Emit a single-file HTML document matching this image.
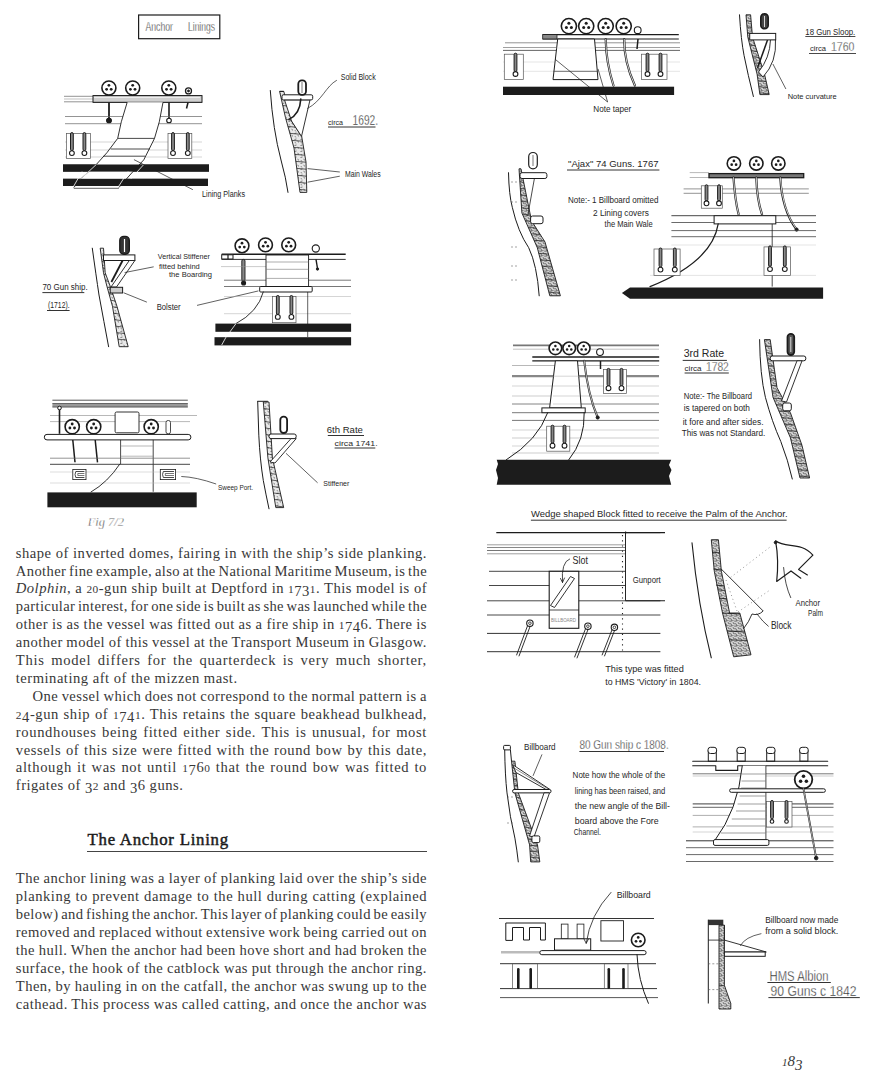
<!DOCTYPE html>
<html><head><meta charset="utf-8">
<style>
html,body{margin:0;padding:0;background:#fff;}
body{width:884px;height:1089px;position:relative;overflow:hidden;font-family:"Liberation Serif",serif;color:#383838;}
.l{position:absolute;font-size:14.6px;letter-spacing:0.5px;line-height:18px;height:18px;white-space:nowrap;}
.j{text-align:justify;text-align-last:justify;white-space:normal;}
.h{position:absolute;left:87.5px;top:831.23px;font-size:16.8px;line-height:18px;font-weight:normal;-webkit-text-stroke:0.45px #1a1a1a;letter-spacing:0.75px;white-space:nowrap;color:#1a1a1a}
.os{font-size:0.78em} .od{position:relative;top:0.2em}
.pn{position:absolute;font-style:italic;font-size:15px;line-height:18px;white-space:nowrap;}
svg{position:absolute;left:0;top:0;}
</style></head><body>
<div class="l" style="top:543.67px;left:15.8px;letter-spacing:0.503px;word-spacing:0.027px;">shape of inverted domes, fairing in with the ship’s side planking.</div>
<div class="l" style="top:561.57px;left:15.8px;letter-spacing:0.375px;word-spacing:-1.236px;">Another fine example, also at the National Maritime Museum, is the</div>
<div class="l" style="top:579.47px;left:15.8px;letter-spacing:0.494px;word-spacing:-0.051px;"><i>Dolphin</i>, a <span class="os">2</span><span class="os">0</span>-gun ship built at Deptford in <span class="os">1</span><span class="od">7</span><span class="od">3</span><span class="os">1</span>. This model is of</div>
<div class="l" style="top:597.37px;left:15.8px;letter-spacing:0.353px;word-spacing:-1.321px;">particular interest, for one side is built as she was launched while the</div>
<div class="l" style="top:615.27px;left:15.8px;letter-spacing:0.469px;word-spacing:-0.214px;">other is as the vessel was fitted out as a fire ship in <span class="os">1</span><span class="od">7</span><span class="od">4</span>6. There is</div>
<div class="l" style="top:633.17px;left:15.8px;letter-spacing:0.451px;word-spacing:-0.466px;">another model of this vessel at the Transport Museum in Glasgow.</div>
<div class="l" style="top:651.07px;left:15.8px;letter-spacing:0.718px;word-spacing:2.181px;">This model differs for the quarterdeck is very much shorter,</div>
<div class="l" style="top:668.97px;left:15.8px;">terminating aft of the mizzen mast.</div>
<div class="l" style="top:686.87px;left:32.5px;letter-spacing:0.435px;word-spacing:-0.560px;">One vessel which does not correspond to the normal pattern is a</div>
<div class="l" style="top:704.77px;left:15.8px;letter-spacing:0.553px;word-spacing:0.552px;"><span class="os">2</span><span class="od">4</span>-gun ship of <span class="os">1</span><span class="od">7</span><span class="od">4</span><span class="os">1</span>. This retains the square beakhead bulkhead,</div>
<div class="l" style="top:722.67px;left:15.8px;letter-spacing:0.625px;word-spacing:1.308px;">roundhouses being fitted either side. This is unusual, for most</div>
<div class="l" style="top:740.57px;left:15.8px;letter-spacing:0.573px;word-spacing:0.595px;">vessels of this size were fitted with the round bow by this date,</div>
<div class="l" style="top:758.47px;left:15.8px;letter-spacing:0.620px;word-spacing:0.946px;">although it was not until <span class="os">1</span><span class="od">7</span>6<span class="os">0</span> that the round bow was fitted to</div>
<div class="l" style="top:776.37px;left:15.8px;">frigates of <span class="od">3</span><span class="os">2</span> and <span class="od">3</span>6 guns.</div>
<div class="l" style="top:869.37px;left:15.8px;letter-spacing:0.456px;word-spacing:-0.366px;">The anchor lining was a layer of planking laid over the ship’s side</div>
<div class="l" style="top:887.27px;left:15.8px;letter-spacing:0.522px;word-spacing:0.234px;">planking to prevent damage to the hull during catting (explained</div>
<div class="l" style="top:905.17px;left:15.8px;letter-spacing:0.359px;word-spacing:-1.324px;">below) and fishing the anchor. This layer of planking could be easily</div>
<div class="l" style="top:923.07px;left:15.8px;letter-spacing:0.431px;word-spacing:-0.737px;">removed and replaced without extensive work being carried out on</div>
<div class="l" style="top:940.97px;left:15.8px;letter-spacing:0.453px;word-spacing:-0.378px;">the hull. When the anchor had been hove short and had broken the</div>
<div class="l" style="top:958.87px;left:15.8px;letter-spacing:0.466px;word-spacing:-0.304px;">surface, the hook of the catblock was put through the anchor ring.</div>
<div class="l" style="top:976.77px;left:15.8px;letter-spacing:0.456px;word-spacing:-0.334px;">Then, by hauling in on the catfall, the anchor was swung up to the</div>
<div class="l" style="top:994.67px;left:15.8px;letter-spacing:0.468px;word-spacing:-0.311px;">cathead. This process was called catting, and once the anchor was</div>
<div class="h">The Anchor Lining</div>
<div style="position:absolute;left:87px;top:851px;width:340px;height:1.2px;background:#444"></div>
<div class="pn" style="left:782px;top:1052px"><span style="font-size:11px">1</span>8<span style="position:relative;top:3.5px">3</span></div>
<svg width="884" height="1089" viewBox="0 0 884 1089"><defs><pattern id="hp" width="6" height="6" patternUnits="userSpaceOnUse">
<rect width="6" height="6" fill="#e8e8e8"/><path d="M0.5 1.5 L2.5 1 M3.5 3.2 L5 4.3 M1 4.2 L1.8 5.4" stroke="#444" stroke-width="0.7"/></pattern><pattern id="hp2" width="5" height="5" patternUnits="userSpaceOnUse">
<rect width="5" height="5" fill="#d2d2d2"/><path d="M0.3 1.2 L2.6 0.6 M2.8 2.6 L4.6 3.8 M0.6 3.4 L1.4 4.8 M3.6 0.4 L4.6 1.2" stroke="#222" stroke-width="0.8"/></pattern></defs><rect x="138.6" y="15.0" width="81.2" height="23.7" rx="0" stroke="#1c1c1c" stroke-width="1.2" fill="none" />
<text x="145.5" y="31.0" font-family="Liberation Sans" font-size="12.649999999999999" fill="#262626" stroke="#fff" stroke-width="0.35" text-anchor="start" font-weight="normal"  textLength="27.5" lengthAdjust="spacingAndGlyphs">Anchor</text>
<text x="188.0" y="31.0" font-family="Liberation Sans" font-size="12.649999999999999" fill="#262626" stroke="#fff" stroke-width="0.35" text-anchor="start" font-weight="normal"  textLength="27.0" lengthAdjust="spacingAndGlyphs">Linings</text>
<line x1="64.0" y1="96.3" x2="93.0" y2="96.3" stroke="#777" stroke-width="0.8" />
<line x1="64.0" y1="99.0" x2="93.0" y2="99.0" stroke="#999" stroke-width="0.6" />
<line x1="64.0" y1="101.8" x2="93.0" y2="101.8" stroke="#777" stroke-width="0.8" />
<line x1="93.0" y1="96.0" x2="202.0" y2="96.0" stroke="#1c1c1c" stroke-width="1.4" />
<line x1="93.0" y1="102.3" x2="202.0" y2="102.3" stroke="#1c1c1c" stroke-width="0.9" />
<rect x="93.0" y="95.6" width="109.0" height="6.7" rx="0" stroke="#1c1c1c" stroke-width="1.0" fill="#d0d0d0" />
<line x1="94.0" y1="97.5" x2="200.0" y2="97.5" stroke="#f4f4f4" stroke-width="0.8" />
<circle cx="108.9" cy="88.0" r="7.0" stroke="#1c1c1c" stroke-width="1.6" fill="#fff"/>
<circle cx="108.9" cy="85.3" r="1.40" fill="#1c1c1c"/>
<circle cx="106.6" cy="89.3" r="1.40" fill="#1c1c1c"/>
<circle cx="111.2" cy="89.3" r="1.40" fill="#1c1c1c"/>
<circle cx="132.7" cy="88.0" r="7.0" stroke="#1c1c1c" stroke-width="1.6" fill="#fff"/>
<circle cx="132.7" cy="85.3" r="1.40" fill="#1c1c1c"/>
<circle cx="130.4" cy="89.3" r="1.40" fill="#1c1c1c"/>
<circle cx="135.0" cy="89.3" r="1.40" fill="#1c1c1c"/>
<circle cx="168.8" cy="88.0" r="7.0" stroke="#1c1c1c" stroke-width="1.6" fill="#fff"/>
<circle cx="168.8" cy="85.3" r="1.40" fill="#1c1c1c"/>
<circle cx="166.5" cy="89.3" r="1.40" fill="#1c1c1c"/>
<circle cx="171.1" cy="89.3" r="1.40" fill="#1c1c1c"/>
<circle cx="188.5" cy="90.9" r="3.0" stroke="#1c1c1c" stroke-width="1.3" fill="#fff"/>
<circle cx="188.5" cy="90.9" r="1.0" stroke="#1c1c1c" stroke-width="0.9" fill="#1c1c1c"/>
<line x1="188.0" y1="102.5" x2="186.5" y2="108.5" stroke="#1c1c1c" stroke-width="1.5" />
<line x1="109.0" y1="102.5" x2="109.0" y2="120.5" stroke="#1c1c1c" stroke-width="1.8" />
<circle cx="109.0" cy="120.5" r="2.3" stroke="#1c1c1c" stroke-width="1.1" fill="#fff"/>
<circle cx="109.0" cy="120.5" r="2.3" stroke="#1c1c1c" stroke-width="0.9" fill="#1c1c1c"/>
<line x1="169.0" y1="102.5" x2="169.0" y2="120.5" stroke="#1c1c1c" stroke-width="1.6" />
<circle cx="169.0" cy="120.5" r="2.3" stroke="#1c1c1c" stroke-width="1.1" fill="#fff"/>
<line x1="65.0" y1="116.5" x2="202.0" y2="116.5" stroke="#666" stroke-width="0.7" />
<line x1="65.0" y1="123.7" x2="202.0" y2="123.7" stroke="#666" stroke-width="0.7" />
<line x1="65.0" y1="142.0" x2="202.0" y2="142.0" stroke="#aaa" stroke-width="0.5" />
<line x1="65.0" y1="150.0" x2="202.0" y2="150.0" stroke="#aaa" stroke-width="0.5" />
<line x1="65.0" y1="157.0" x2="202.0" y2="157.0" stroke="#aaa" stroke-width="0.5" />
<rect x="66.6" y="133.6" width="23.8" height="25.0" rx="0" stroke="#555" stroke-width="0.7" fill="#fff" />
<rect x="70.5" y="132.6" width="2.8" height="18.0" rx="1.4" stroke="#1c1c1c" stroke-width="1.0" fill="#888"/>
<circle cx="71.9" cy="153.1" r="2.4" stroke="#1c1c1c" stroke-width="1.1" fill="#fff"/>
<rect x="83.0" y="132.6" width="2.8" height="18.0" rx="1.4" stroke="#1c1c1c" stroke-width="1.0" fill="#888"/>
<circle cx="84.4" cy="153.1" r="2.4" stroke="#1c1c1c" stroke-width="1.1" fill="#fff"/>
<rect x="168.0" y="133.6" width="23.8" height="25.0" rx="0" stroke="#555" stroke-width="0.7" fill="#fff" />
<rect x="171.6" y="132.6" width="2.8" height="18.0" rx="1.4" stroke="#1c1c1c" stroke-width="1.0" fill="#888"/>
<circle cx="173.0" cy="153.1" r="2.4" stroke="#1c1c1c" stroke-width="1.1" fill="#fff"/>
<rect x="186.4" y="132.6" width="2.8" height="18.0" rx="1.4" stroke="#1c1c1c" stroke-width="1.0" fill="#888"/>
<circle cx="187.8" cy="153.1" r="2.4" stroke="#1c1c1c" stroke-width="1.1" fill="#fff"/>
<rect x="63.0" y="164.5" width="146.0" height="7.1" fill="#1c1c1c"/>
<rect x="63.0" y="178.8" width="145.0" height="7.2" fill="#1c1c1c"/>
<polygon points="127.2,102.3 121.3,121.8 117.7,138.4 107,152.6 96.3,164.5 80.9,178.8 73.8,187.5 118.9,188.3 118.9,187.5 130.8,174 143.8,159.8 154.5,138.4 159.3,121.8 163,102.3" fill="#fff" stroke="none"/>
<rect x="63.0" y="164.5" width="146.0" height="7.1" fill="#1c1c1c"/>
<rect x="63.0" y="178.8" width="145.0" height="7.2" fill="#1c1c1c"/>
<polyline points="127.2,102.3 121.3,121.8 117.7,138.4 107.0,152.6 96.3,164.5 80.9,178.8 73.8,187.5" stroke="#1c1c1c" stroke-width="0.9" fill="none" stroke-linejoin="round" />
<polyline points="163.0,102.3 159.3,121.8 154.5,138.4 143.8,159.8 130.8,174.0 118.9,187.5" stroke="#1c1c1c" stroke-width="0.9" fill="none" stroke-linejoin="round" />
<line x1="117.7" y1="138.4" x2="154.5" y2="138.4" stroke="#1c1c1c" stroke-width="0.8" />
<line x1="110.6" y1="149.0" x2="149.8" y2="149.0" stroke="#1c1c1c" stroke-width="0.8" />
<line x1="103.4" y1="156.2" x2="145.0" y2="156.2" stroke="#1c1c1c" stroke-width="0.8" />
<line x1="96.3" y1="164.5" x2="80.9" y2="178.8" stroke="#fff" stroke-width="0.8" />
<line x1="143.8" y1="164.5" x2="130.8" y2="178.8" stroke="#fff" stroke-width="0.8" />
<line x1="82.0" y1="171.6" x2="73.8" y2="186.0" stroke="#fff" stroke-width="0.8" />
<line x1="128.0" y1="171.6" x2="118.9" y2="186.0" stroke="#fff" stroke-width="0.8" />
<line x1="73.8" y1="188.3" x2="118.9" y2="188.3" stroke="#1c1c1c" stroke-width="0.7" />
<path d="M134.3,159.8 L192.5,189.5" stroke="#1c1c1c" stroke-width="0.7" fill="none" stroke-linecap="round" stroke-linejoin="round" />
<text x="202.0" y="197.0" font-family="Liberation Sans" font-size="8.625" fill="#262626" stroke="#fff" stroke-width="0" text-anchor="start" font-weight="normal"  textLength="43.0" lengthAdjust="spacingAndGlyphs">Lining Planks</text>
<path d="M270.3,90.5 Q273,130 281,160 Q286,178 288,192.4" stroke="#1c1c1c" stroke-width="1.0" fill="none" stroke-linecap="round" stroke-linejoin="round" />
<polygon points="279.6,91.4 285.5,117.7 294.0,148.0 300.0,192.4 306.8,192.4 306.0,162.0 301.7,136.4 291.5,121.0 283.8,91.4" fill="url(#hp)" stroke="#1c1c1c" stroke-width="0.9"/>
<line x1="281.2" y1="98.4" x2="285.8" y2="99.2" stroke="#1c1c1c" stroke-width="0.7" />
<line x1="282.7" y1="105.4" x2="287.6" y2="106.2" stroke="#1c1c1c" stroke-width="0.7" />
<line x1="284.3" y1="112.4" x2="289.5" y2="113.2" stroke="#1c1c1c" stroke-width="0.7" />
<line x1="286.0" y1="119.4" x2="291.3" y2="120.2" stroke="#1c1c1c" stroke-width="0.7" />
<line x1="287.9" y1="126.4" x2="295.6" y2="127.2" stroke="#1c1c1c" stroke-width="0.7" />
<line x1="289.9" y1="133.4" x2="300.2" y2="134.2" stroke="#1c1c1c" stroke-width="0.7" />
<line x1="291.9" y1="140.4" x2="302.5" y2="141.2" stroke="#1c1c1c" stroke-width="0.7" />
<line x1="293.8" y1="147.4" x2="303.7" y2="148.2" stroke="#1c1c1c" stroke-width="0.7" />
<line x1="294.9" y1="154.4" x2="304.9" y2="155.2" stroke="#1c1c1c" stroke-width="0.7" />
<line x1="295.8" y1="161.4" x2="306.0" y2="162.2" stroke="#1c1c1c" stroke-width="0.7" />
<line x1="296.8" y1="168.4" x2="306.2" y2="169.2" stroke="#1c1c1c" stroke-width="0.7" />
<line x1="297.7" y1="175.4" x2="306.4" y2="176.2" stroke="#1c1c1c" stroke-width="0.7" />
<line x1="298.6" y1="182.4" x2="306.6" y2="183.2" stroke="#1c1c1c" stroke-width="0.7" />
<line x1="299.6" y1="189.4" x2="306.7" y2="190.2" stroke="#1c1c1c" stroke-width="0.7" />
<line x1="279.6" y1="91.4" x2="283.8" y2="91.4" stroke="#1c1c1c" stroke-width="1.0" />
<polygon points="284.5,99.9 310.0,99.9 301.5,136.4 291.5,121.0" stroke="#1c1c1c" stroke-width="0.9" fill="#fff" stroke-linejoin="round" />
<rect x="282.0" y="94.8" width="30.7" height="5.1" rx="1.5" stroke="#1c1c1c" stroke-width="1.0" fill="#fff" />
<rect x="298.3" y="80.4" width="7.7" height="14.4" rx="3.5" stroke="#1c1c1c" stroke-width="1.8" fill="#fff" />
<line x1="302.0" y1="82.0" x2="302.0" y2="93.0" stroke="#1c1c1c" stroke-width="0.6" />
<path d="M300.8,99 Q300,114 289,119.4" stroke="#1c1c1c" stroke-width="1.6" fill="none" stroke-linecap="round" stroke-linejoin="round" />
<path d="M307.6,108.4 C322,101 326,86 336.5,80.4" stroke="#1c1c1c" stroke-width="0.7" fill="none" stroke-linecap="round" stroke-linejoin="round" />
<text x="340.7" y="80.0" font-family="Liberation Sans" font-size="8.625" fill="#262626" stroke="#fff" stroke-width="0" text-anchor="start" font-weight="normal"  textLength="35.0" lengthAdjust="spacingAndGlyphs">Solid Block</text>
<text x="328.0" y="125.0" font-family="Liberation Sans" font-size="8.049999999999999" fill="#262626" stroke="#fff" stroke-width="0" text-anchor="start" font-weight="normal"  textLength="15.0" lengthAdjust="spacingAndGlyphs">circa</text>
<text x="352.6" y="125.0" font-family="Liberation Sans" font-size="14.95" fill="#262626" stroke="#fff" stroke-width="0.35" text-anchor="start" font-weight="normal"  textLength="25.5" lengthAdjust="spacingAndGlyphs">1692.</text>
<line x1="328.0" y1="127.0" x2="375.5" y2="127.0" stroke="#1c1c1c" stroke-width="0.9" />
<line x1="307.6" y1="168.6" x2="339.8" y2="172.0" stroke="#1c1c1c" stroke-width="0.7" />
<line x1="307.6" y1="182.2" x2="339.8" y2="176.2" stroke="#1c1c1c" stroke-width="0.7" />
<text x="345.0" y="177.0" font-family="Liberation Sans" font-size="8.625" fill="#262626" stroke="#fff" stroke-width="0" text-anchor="start" font-weight="normal"  textLength="35.6" lengthAdjust="spacingAndGlyphs">Main Wales</text>
<path d="M92.3,248.2 Q96,275 99,295 Q104,322 108.6,346.7" stroke="#1c1c1c" stroke-width="1.0" fill="none" stroke-linecap="round" stroke-linejoin="round" />
<polygon points="100.2,248.2 103.5,272.8 106.9,286.2 112.5,306.4 119.2,346.7 128.2,346.7 117.0,306.4 110.2,286.2 105.2,272.8 103.5,248.2" fill="url(#hp)" stroke="#1c1c1c" stroke-width="0.9"/>
<line x1="101.1" y1="254.7" x2="104.0" y2="255.5" stroke="#1c1c1c" stroke-width="0.7" />
<line x1="101.9" y1="261.2" x2="104.5" y2="262.0" stroke="#1c1c1c" stroke-width="0.7" />
<line x1="102.8" y1="267.7" x2="104.9" y2="268.5" stroke="#1c1c1c" stroke-width="0.7" />
<line x1="103.9" y1="274.2" x2="106.0" y2="275.0" stroke="#1c1c1c" stroke-width="0.7" />
<line x1="105.5" y1="280.7" x2="108.4" y2="281.5" stroke="#1c1c1c" stroke-width="0.7" />
<line x1="107.2" y1="287.2" x2="110.8" y2="288.0" stroke="#1c1c1c" stroke-width="0.7" />
<line x1="109.0" y1="293.7" x2="113.0" y2="294.5" stroke="#1c1c1c" stroke-width="0.7" />
<line x1="110.8" y1="300.2" x2="115.2" y2="301.0" stroke="#1c1c1c" stroke-width="0.7" />
<line x1="112.5" y1="306.7" x2="117.3" y2="307.5" stroke="#1c1c1c" stroke-width="0.7" />
<line x1="113.6" y1="313.2" x2="119.1" y2="314.0" stroke="#1c1c1c" stroke-width="0.7" />
<line x1="114.7" y1="319.7" x2="120.9" y2="320.5" stroke="#1c1c1c" stroke-width="0.7" />
<line x1="115.8" y1="326.2" x2="122.7" y2="327.0" stroke="#1c1c1c" stroke-width="0.7" />
<line x1="116.9" y1="332.7" x2="124.5" y2="333.5" stroke="#1c1c1c" stroke-width="0.7" />
<line x1="118.0" y1="339.2" x2="126.3" y2="340.0" stroke="#1c1c1c" stroke-width="0.7" />
<rect x="103.5" y="254.9" width="31.4" height="5.6" rx="0" stroke="#1c1c1c" stroke-width="1.0" fill="#fff" />
<rect x="119.8" y="236.4" width="9.5" height="17.9" rx="4" stroke="#1c1c1c" stroke-width="1.4" fill="#333" />
<line x1="124.5" y1="239.0" x2="124.5" y2="252.0" stroke="#fff" stroke-width="1.2" />
<polygon points="129.3,260.5 134.9,260.5 116.5,287.0 111.0,287.0" stroke="#1c1c1c" stroke-width="0.9" fill="#fff" stroke-linejoin="round" />
<line x1="122.6" y1="260.5" x2="111.4" y2="282.0" stroke="#1c1c1c" stroke-width="1.8" />
<rect x="110.2" y="287.3" width="12.4" height="5.7" rx="0" stroke="#1c1c1c" stroke-width="1.0" fill="#ccc" />
<path d="M125,272.5 L153.3,266.9" stroke="#1c1c1c" stroke-width="0.7" fill="none" stroke-linecap="round" stroke-linejoin="round" />
<text x="157.8" y="259.0" font-family="Liberation Sans" font-size="8.049999999999999" fill="#262626" stroke="#fff" stroke-width="0" text-anchor="start" font-weight="normal"  textLength="52.0" lengthAdjust="spacingAndGlyphs">Vertical Stiffener</text>
<text x="159.0" y="268.5" font-family="Liberation Sans" font-size="8.049999999999999" fill="#262626" stroke="#fff" stroke-width="0" text-anchor="start" font-weight="normal"  textLength="40.7" lengthAdjust="spacingAndGlyphs">fitted behind</text>
<text x="169.0" y="277.0" font-family="Liberation Sans" font-size="8.049999999999999" fill="#262626" stroke="#fff" stroke-width="0" text-anchor="start" font-weight="normal"  textLength="43.0" lengthAdjust="spacingAndGlyphs">the Boarding</text>
<path d="M124,292.9 L146.5,302" stroke="#1c1c1c" stroke-width="0.7" fill="none" stroke-linecap="round" stroke-linejoin="round" />
<text x="156.7" y="310.0" font-family="Liberation Sans" font-size="9.2" fill="#262626" stroke="#fff" stroke-width="0" text-anchor="start" font-weight="normal"  textLength="24.0" lengthAdjust="spacingAndGlyphs">Bolster</text>
<path d="M197.4,305.3 L258,291" stroke="#1c1c1c" stroke-width="0.7" fill="none" stroke-linecap="round" stroke-linejoin="round" />
<text x="42.4" y="290.0" font-family="Liberation Sans" font-size="9.2" fill="#262626" stroke="#fff" stroke-width="0" text-anchor="start" font-weight="normal"  textLength="45.3" lengthAdjust="spacingAndGlyphs">70 Gun ship.</text>
<line x1="42.4" y1="292.6" x2="84.3" y2="292.6" stroke="#1c1c1c" stroke-width="0.9" />
<text x="48.0" y="307.5" font-family="Liberation Sans" font-size="9.2" fill="#262626" stroke="#fff" stroke-width="0" text-anchor="start" font-weight="normal"  textLength="21.6" lengthAdjust="spacingAndGlyphs">(1712).</text>
<line x1="47.0" y1="310.5" x2="69.6" y2="310.5" stroke="#1c1c1c" stroke-width="0.9" />
<line x1="221.7" y1="254.3" x2="345.7" y2="254.3" stroke="#1c1c1c" stroke-width="1.4" />
<line x1="221.7" y1="259.4" x2="345.7" y2="259.4" stroke="#1c1c1c" stroke-width="0.9" />
<rect x="221.7" y="254.8" width="11.3" height="4.2" rx="0" stroke="#1c1c1c" stroke-width="1.0" fill="#fff" />
<line x1="228.0" y1="254.8" x2="228.0" y2="259.0" stroke="#1c1c1c" stroke-width="1.2" />
<circle cx="242.0" cy="245.8" r="6.9" stroke="#1c1c1c" stroke-width="1.6" fill="#fff"/>
<circle cx="242.0" cy="243.2" r="1.38" fill="#1c1c1c"/>
<circle cx="239.7" cy="247.1" r="1.38" fill="#1c1c1c"/>
<circle cx="244.3" cy="247.1" r="1.38" fill="#1c1c1c"/>
<circle cx="265.5" cy="244.9" r="6.9" stroke="#1c1c1c" stroke-width="1.6" fill="#fff"/>
<circle cx="265.5" cy="242.3" r="1.38" fill="#1c1c1c"/>
<circle cx="263.2" cy="246.2" r="1.38" fill="#1c1c1c"/>
<circle cx="267.8" cy="246.2" r="1.38" fill="#1c1c1c"/>
<circle cx="288.7" cy="244.9" r="6.9" stroke="#1c1c1c" stroke-width="1.6" fill="#fff"/>
<circle cx="288.7" cy="242.3" r="1.38" fill="#1c1c1c"/>
<circle cx="286.4" cy="246.2" r="1.38" fill="#1c1c1c"/>
<circle cx="291.0" cy="246.2" r="1.38" fill="#1c1c1c"/>
<circle cx="315.8" cy="248.5" r="3.6" stroke="#1c1c1c" stroke-width="1.1" fill="#fff"/>
<rect x="241.8" y="259.4" width="3.2" height="22" rx="1.6" fill="#888" stroke="#1c1c1c" stroke-width="0.9"/>
<circle cx="243.6" cy="283.0" r="2.0" stroke="#1c1c1c" stroke-width="1.1" fill="#1c1c1c"/>
<line x1="316.0" y1="259.4" x2="317.5" y2="268.5" stroke="#1c1c1c" stroke-width="1.4" />
<circle cx="317.5" cy="269.0" r="1.2" stroke="#1c1c1c" stroke-width="0.9" fill="#1c1c1c"/>
<line x1="221.0" y1="266.6" x2="266.0" y2="266.6" stroke="#999" stroke-width="0.5" />
<line x1="224.0" y1="280.2" x2="351.0" y2="280.2" stroke="#555" stroke-width="0.8" />
<line x1="224.0" y1="286.5" x2="351.0" y2="286.5" stroke="#555" stroke-width="0.8" />
<line x1="224.0" y1="296.5" x2="351.0" y2="296.5" stroke="#aaa" stroke-width="0.5" />
<line x1="224.0" y1="313.7" x2="351.0" y2="313.7" stroke="#aaa" stroke-width="0.5" />
<rect x="266.0" y="255.0" width="42.6" height="31.5" rx="0" stroke="#1c1c1c" stroke-width="0.9" fill="#fff" />
<line x1="266.0" y1="262.0" x2="308.6" y2="262.0" stroke="#777" stroke-width="0.6" />
<line x1="266.0" y1="269.3" x2="308.6" y2="269.3" stroke="#777" stroke-width="0.6" />
<line x1="266.0" y1="278.4" x2="308.6" y2="278.4" stroke="#777" stroke-width="0.6" />
<rect x="259.7" y="286.5" width="52.5" height="5.5" rx="1" stroke="#1c1c1c" stroke-width="1.0" fill="#fff" />
<line x1="307.7" y1="292.0" x2="307.7" y2="337.0" stroke="#1c1c1c" stroke-width="0.7" />
<rect x="272.4" y="296.5" width="23.6" height="26.2" rx="0" stroke="#555" stroke-width="0.7" fill="#fff" />
<rect x="276.4" y="295.5" width="2.8" height="18.9" rx="1.4" stroke="#1c1c1c" stroke-width="1.0" fill="#888"/>
<circle cx="277.8" cy="316.9" r="2.4" stroke="#1c1c1c" stroke-width="1.1" fill="#fff"/>
<rect x="290.0" y="295.5" width="2.8" height="18.9" rx="1.4" stroke="#1c1c1c" stroke-width="1.0" fill="#888"/>
<circle cx="291.4" cy="316.9" r="2.4" stroke="#1c1c1c" stroke-width="1.1" fill="#fff"/>
<rect x="215.4" y="323.6" width="135.7" height="8.2" fill="#1c1c1c"/>
<rect x="214.5" y="337.2" width="136.6" height="8.2" fill="#1c1c1c"/>
<path d="M263.3,292 Q258,312 236,323.6" stroke="#1c1c1c" stroke-width="0.9" fill="none" stroke-linecap="round" stroke-linejoin="round" />
<line x1="236.0" y1="323.6" x2="226.0" y2="337.2" stroke="#fff" stroke-width="0.8" />
<line x1="226.0" y1="337.2" x2="221.7" y2="345.0" stroke="#fff" stroke-width="0.8" />
<line x1="52.4" y1="400.2" x2="187.8" y2="400.2" stroke="#444" stroke-width="0.9" />
<rect x="52.4" y="403.3" width="135.4" height="4.0" fill="#999"/>
<line x1="52.4" y1="403.5" x2="187.8" y2="403.5" stroke="#444" stroke-width="0.7" />
<line x1="52.4" y1="407.0" x2="187.8" y2="407.0" stroke="#444" stroke-width="0.7" />
<line x1="50.0" y1="415.5" x2="197.0" y2="415.5" stroke="#888" stroke-width="0.6" />
<line x1="50.0" y1="421.6" x2="190.0" y2="421.6" stroke="#888" stroke-width="0.6" />
<line x1="59.5" y1="409.0" x2="59.5" y2="433.8" stroke="#1c1c1c" stroke-width="1.6" />
<circle cx="59.5" cy="408.0" r="1.8" stroke="#1c1c1c" stroke-width="1" fill="#fff"/>
<circle cx="72.2" cy="426.7" r="7.1" stroke="#1c1c1c" stroke-width="1.6" fill="#fff"/>
<circle cx="72.2" cy="424.0" r="1.42" fill="#1c1c1c"/>
<circle cx="69.9" cy="428.0" r="1.42" fill="#1c1c1c"/>
<circle cx="74.5" cy="428.0" r="1.42" fill="#1c1c1c"/>
<circle cx="93.7" cy="426.7" r="7.1" stroke="#1c1c1c" stroke-width="1.6" fill="#fff"/>
<circle cx="93.7" cy="424.0" r="1.42" fill="#1c1c1c"/>
<circle cx="91.4" cy="428.0" r="1.42" fill="#1c1c1c"/>
<circle cx="96.0" cy="428.0" r="1.42" fill="#1c1c1c"/>
<rect x="115.1" y="412.0" width="23.9" height="20.8" rx="1.5" stroke="#1c1c1c" stroke-width="0.9" fill="#fff" />
<circle cx="151.2" cy="426.7" r="7.1" stroke="#1c1c1c" stroke-width="1.6" fill="#fff"/>
<circle cx="151.2" cy="424.0" r="1.42" fill="#1c1c1c"/>
<circle cx="148.9" cy="428.0" r="1.42" fill="#1c1c1c"/>
<circle cx="153.5" cy="428.0" r="1.42" fill="#1c1c1c"/>
<rect x="166.0" y="420.5" width="4.5" height="13.3" rx="2" stroke="#1c1c1c" stroke-width="0.8" fill="#fff" />
<rect x="44.3" y="434.4" width="146.6" height="5.5" rx="2.7" stroke="#1c1c1c" stroke-width="1.0" fill="#fff" />
<line x1="72.8" y1="440.0" x2="75.0" y2="462.3" stroke="#1c1c1c" stroke-width="1.5" />
<line x1="95.2" y1="440.0" x2="97.5" y2="462.3" stroke="#1c1c1c" stroke-width="1.5" />
<line x1="120.6" y1="439.9" x2="120.6" y2="464.3" stroke="#1c1c1c" stroke-width="0.8" />
<line x1="153.2" y1="439.9" x2="153.2" y2="491.8" stroke="#1c1c1c" stroke-width="0.8" />
<line x1="120.6" y1="446.0" x2="153.2" y2="446.0" stroke="#888" stroke-width="0.6" />
<line x1="120.6" y1="456.2" x2="153.2" y2="456.2" stroke="#888" stroke-width="0.6" />
<line x1="50.0" y1="458.2" x2="190.0" y2="458.2" stroke="#666" stroke-width="0.7" />
<line x1="50.0" y1="464.3" x2="190.0" y2="464.3" stroke="#333" stroke-width="0.9" />
<line x1="50.0" y1="472.0" x2="190.0" y2="472.0" stroke="#bbb" stroke-width="0.5" />
<line x1="50.0" y1="483.0" x2="190.0" y2="483.0" stroke="#bbb" stroke-width="0.5" />
<rect x="72.8" y="469.4" width="13.2" height="10.2" rx="0" stroke="#1c1c1c" stroke-width="0.8" fill="#fff" />
<path d="M84,471.5 L75.8,471.5 Q74.3,474.5 75.8,477.5 L84,477.5" stroke="#1c1c1c" stroke-width="0.8" fill="none" stroke-linecap="round" stroke-linejoin="round" />
<path d="M84,473.5 L77.8,473.5 L77.8,475.5 L84,475.5" stroke="#1c1c1c" stroke-width="0.6" fill="none" stroke-linecap="round" stroke-linejoin="round" />
<rect x="160.3" y="469.4" width="15.3" height="10.2" rx="0" stroke="#1c1c1c" stroke-width="0.8" fill="#fff" />
<path d="M173.6,471.5 L163.3,471.5 Q161.8,474.5 163.3,477.5 L173.6,477.5" stroke="#1c1c1c" stroke-width="0.8" fill="none" stroke-linecap="round" stroke-linejoin="round" />
<path d="M173.6,473.5 L165.3,473.5 L165.3,475.5 L173.6,475.5" stroke="#1c1c1c" stroke-width="0.6" fill="none" stroke-linecap="round" stroke-linejoin="round" />
<path d="M119.6,464.3 Q108,482 91,492" stroke="#1c1c1c" stroke-width="0.9" fill="none" stroke-linecap="round" stroke-linejoin="round" />
<rect x="47.4" y="492.4" width="149.3" height="14.9" fill="#1c1c1c"/>
<path d="M181.7,476.5 Q196,477 215.8,483.9" stroke="#1c1c1c" stroke-width="0.7" fill="none" stroke-linecap="round" stroke-linejoin="round" />
<text x="218.0" y="489.5" font-family="Liberation Sans" font-size="8.049999999999999" fill="#262626" stroke="#fff" stroke-width="0" text-anchor="start" font-weight="normal"  textLength="35.0" lengthAdjust="spacingAndGlyphs">Sweep Port.</text>
<text x="87.7" y="526.0" font-family="Liberation Serif" font-size="12" fill="#333" stroke="#fff" stroke-width="0.35" text-anchor="start" font-weight="normal" font-style="italic" textLength="36.3" lengthAdjust="spacingAndGlyphs">Fig 7/2</text>
<path d="M257.7,401.3 L258.8,435.2 Q260,460 263.3,480.5 Q266,495 269,508.8" stroke="#1c1c1c" stroke-width="1.0" fill="none" stroke-linecap="round" stroke-linejoin="round" />
<line x1="257.7" y1="401.3" x2="267.9" y2="401.3" stroke="#1c1c1c" stroke-width="1.0" />
<polygon points="263.3,402.0 267.9,457.9 275.8,507.6 283.7,507.6 272.4,457.9 269.0,402.0" fill="url(#hp)" stroke="#1c1c1c" stroke-width="0.9"/>
<line x1="263.8" y1="408.5" x2="269.4" y2="409.3" stroke="#1c1c1c" stroke-width="0.7" />
<line x1="264.4" y1="415.0" x2="269.8" y2="415.8" stroke="#1c1c1c" stroke-width="0.7" />
<line x1="264.9" y1="421.5" x2="270.2" y2="422.3" stroke="#1c1c1c" stroke-width="0.7" />
<line x1="265.4" y1="428.0" x2="270.6" y2="428.8" stroke="#1c1c1c" stroke-width="0.7" />
<line x1="266.0" y1="434.5" x2="271.0" y2="435.3" stroke="#1c1c1c" stroke-width="0.7" />
<line x1="266.5" y1="441.0" x2="271.4" y2="441.8" stroke="#1c1c1c" stroke-width="0.7" />
<line x1="267.0" y1="447.5" x2="271.8" y2="448.3" stroke="#1c1c1c" stroke-width="0.7" />
<line x1="267.6" y1="454.0" x2="272.2" y2="454.8" stroke="#1c1c1c" stroke-width="0.7" />
<line x1="268.3" y1="460.5" x2="273.2" y2="461.3" stroke="#1c1c1c" stroke-width="0.7" />
<line x1="269.3" y1="467.0" x2="274.7" y2="467.8" stroke="#1c1c1c" stroke-width="0.7" />
<line x1="270.4" y1="473.5" x2="276.1" y2="474.3" stroke="#1c1c1c" stroke-width="0.7" />
<line x1="271.4" y1="480.0" x2="277.6" y2="480.8" stroke="#1c1c1c" stroke-width="0.7" />
<line x1="272.4" y1="486.5" x2="279.1" y2="487.3" stroke="#1c1c1c" stroke-width="0.7" />
<line x1="273.5" y1="493.0" x2="280.6" y2="493.8" stroke="#1c1c1c" stroke-width="0.7" />
<line x1="274.5" y1="499.5" x2="282.0" y2="500.3" stroke="#1c1c1c" stroke-width="0.7" />
<line x1="275.5" y1="506.0" x2="283.5" y2="506.8" stroke="#1c1c1c" stroke-width="0.7" />
<rect x="280.3" y="416.7" width="6.8" height="16.3" rx="3.3" stroke="#1c1c1c" stroke-width="1.8" fill="#fff" />
<rect x="269.0" y="434.0" width="27.2" height="4.6" rx="2" stroke="#1c1c1c" stroke-width="1.0" fill="#fff" />
<polygon points="291.0,438.6 296.2,438.6 275.0,463.0 270.0,462.0" stroke="#1c1c1c" stroke-width="0.9" fill="#fff" stroke-linejoin="round" />
<line x1="286.0" y1="453.3" x2="317.6" y2="482.8" stroke="#1c1c1c" stroke-width="0.7" />
<text x="326.7" y="432.5" font-family="Liberation Sans" font-size="9.774999999999999" fill="#262626" stroke="#fff" stroke-width="0" text-anchor="start" font-weight="normal"  textLength="36.2" lengthAdjust="spacingAndGlyphs">6th Rate</text>
<line x1="327.8" y1="435.5" x2="364.0" y2="435.5" stroke="#1c1c1c" stroke-width="0.9" />
<text x="334.6" y="445.5" font-family="Liberation Sans" font-size="8.049999999999999" fill="#262626" stroke="#fff" stroke-width="0" text-anchor="start" font-weight="normal"  textLength="43.0" lengthAdjust="spacingAndGlyphs">circa 1741.</text>
<line x1="334.6" y1="448.0" x2="375.3" y2="448.0" stroke="#1c1c1c" stroke-width="0.9" />
<text x="323.3" y="486.0" font-family="Liberation Sans" font-size="8.049999999999999" fill="#262626" stroke="#fff" stroke-width="0" text-anchor="start" font-weight="normal"  textLength="26.0" lengthAdjust="spacingAndGlyphs">Stiffener</text>
<line x1="505.0" y1="42.8" x2="680.0" y2="42.8" stroke="#666" stroke-width="0.7" />
<line x1="503.0" y1="47.5" x2="680.0" y2="47.5" stroke="#777" stroke-width="0.7" />
<line x1="503.0" y1="50.4" x2="680.0" y2="50.4" stroke="#555" stroke-width="0.9" />
<line x1="503.0" y1="62.0" x2="680.0" y2="62.0" stroke="#bbb" stroke-width="0.4" />
<line x1="503.0" y1="71.3" x2="680.0" y2="71.3" stroke="#bbb" stroke-width="0.4" />
<line x1="542.7" y1="34.6" x2="678.8" y2="34.6" stroke="#1c1c1c" stroke-width="1.4" />
<line x1="542.7" y1="39.0" x2="678.8" y2="39.0" stroke="#1c1c1c" stroke-width="1.2" />
<rect x="542.7" y="34.6" width="14.3" height="4.4" rx="0" stroke="#1c1c1c" stroke-width="0.8" fill="#888" />
<circle cx="568.9" cy="26.1" r="7.6" stroke="#1c1c1c" stroke-width="1.6" fill="#fff"/>
<circle cx="568.9" cy="23.2" r="1.52" fill="#1c1c1c"/>
<circle cx="566.4" cy="27.5" r="1.52" fill="#1c1c1c"/>
<circle cx="571.4" cy="27.5" r="1.52" fill="#1c1c1c"/>
<circle cx="586.2" cy="26.1" r="7.6" stroke="#1c1c1c" stroke-width="1.6" fill="#fff"/>
<circle cx="586.2" cy="23.2" r="1.52" fill="#1c1c1c"/>
<circle cx="583.7" cy="27.5" r="1.52" fill="#1c1c1c"/>
<circle cx="588.7" cy="27.5" r="1.52" fill="#1c1c1c"/>
<circle cx="605.7" cy="26.1" r="7.6" stroke="#1c1c1c" stroke-width="1.6" fill="#fff"/>
<circle cx="605.7" cy="23.2" r="1.52" fill="#1c1c1c"/>
<circle cx="603.2" cy="27.5" r="1.52" fill="#1c1c1c"/>
<circle cx="608.2" cy="27.5" r="1.52" fill="#1c1c1c"/>
<circle cx="623.7" cy="26.1" r="7.6" stroke="#1c1c1c" stroke-width="1.6" fill="#fff"/>
<circle cx="623.7" cy="23.2" r="1.52" fill="#1c1c1c"/>
<circle cx="621.2" cy="27.5" r="1.52" fill="#1c1c1c"/>
<circle cx="626.2" cy="27.5" r="1.52" fill="#1c1c1c"/>
<circle cx="637.7" cy="30.2" r="3.4" stroke="#1c1c1c" stroke-width="1.1" fill="#fff"/>
<line x1="638.0" y1="39.0" x2="637.0" y2="49.0" stroke="#1c1c1c" stroke-width="1.5" />
<polygon points="557.7,39.0 594.5,39.0 598.0,79.6 553.0,79.6" stroke="#1c1c1c" stroke-width="1.0" fill="#fff" stroke-linejoin="round" />
<line x1="553.5" y1="71.3" x2="597.5" y2="71.3" stroke="#444" stroke-width="0.8" />
<line x1="556.0" y1="48.0" x2="595.0" y2="48.0" stroke="#ccc" stroke-width="0.4" />
<path d="M605.7,39.2 Q606,62 613.5,85.5" stroke="#1c1c1c" stroke-width="2.2" fill="none" stroke-linecap="round" stroke-linejoin="round" />
<path d="M605.7,39.2 Q606,62 613.5,85.5" stroke="#fff" stroke-width="0.8" fill="none" stroke-linecap="round" stroke-linejoin="round" />
<path d="M624.2,39.2 Q624,62 634.9,85.5" stroke="#1c1c1c" stroke-width="2.2" fill="none" stroke-linecap="round" stroke-linejoin="round" />
<path d="M624.2,39.2 Q624,62 634.9,85.5" stroke="#fff" stroke-width="0.8" fill="none" stroke-linecap="round" stroke-linejoin="round" />
<rect x="504.3" y="54.2" width="19.0" height="25.4" rx="0" stroke="#555" stroke-width="0.7" fill="#fff" />
<rect x="514.1" y="53.2" width="2.8" height="18.3" rx="1.4" stroke="#1c1c1c" stroke-width="1.0" fill="#888"/>
<circle cx="515.5" cy="74.0" r="2.4" stroke="#1c1c1c" stroke-width="1.1" fill="#fff"/>
<rect x="641.5" y="54.2" width="25.5" height="25.4" rx="0" stroke="#555" stroke-width="0.7" fill="#fff" />
<rect x="646.1" y="53.2" width="2.8" height="18.3" rx="1.4" stroke="#1c1c1c" stroke-width="1.0" fill="#888"/>
<circle cx="647.5" cy="74.0" r="2.4" stroke="#1c1c1c" stroke-width="1.1" fill="#fff"/>
<rect x="659.1" y="53.2" width="2.8" height="18.3" rx="1.4" stroke="#1c1c1c" stroke-width="1.0" fill="#888"/>
<circle cx="660.5" cy="74.0" r="2.4" stroke="#1c1c1c" stroke-width="1.1" fill="#fff"/>
<rect x="503.0" y="86.7" width="171.1" height="8.3" fill="#1c1c1c"/>
<line x1="555.3" y1="59.4" x2="607.6" y2="102.0" stroke="#1c1c1c" stroke-width="0.7" />
<line x1="598.0" y1="68.9" x2="607.6" y2="102.0" stroke="#1c1c1c" stroke-width="0.7" />
<text x="593.3" y="112.0" font-family="Liberation Sans" font-size="9.2" fill="#262626" stroke="#fff" stroke-width="0" text-anchor="start" font-weight="normal"  textLength="38.0" lengthAdjust="spacingAndGlyphs">Note taper</text>
<path d="M739.5,14.8 Q741,40 744.1,55.7 Q748,75 753.4,96.5" stroke="#1c1c1c" stroke-width="1.0" fill="none" stroke-linecap="round" stroke-linejoin="round" />
<polygon points="746.0,14.8 747.8,37.1 757.1,74.2 759.9,94.6 769.2,94.6 764.5,74.2 752.5,37.1 750.6,14.8" fill="url(#hp2)" stroke="#1c1c1c" stroke-width="0.9"/>
<line x1="746.5" y1="20.8" x2="751.2" y2="21.6" stroke="#1c1c1c" stroke-width="0.7" />
<line x1="747.0" y1="26.8" x2="751.7" y2="27.6" stroke="#1c1c1c" stroke-width="0.7" />
<line x1="747.5" y1="32.8" x2="752.2" y2="33.6" stroke="#1c1c1c" stroke-width="0.7" />
<line x1="748.2" y1="38.8" x2="753.3" y2="39.6" stroke="#1c1c1c" stroke-width="0.7" />
<line x1="749.7" y1="44.8" x2="755.2" y2="45.6" stroke="#1c1c1c" stroke-width="0.7" />
<line x1="751.2" y1="50.8" x2="757.2" y2="51.6" stroke="#1c1c1c" stroke-width="0.7" />
<line x1="752.7" y1="56.8" x2="759.1" y2="57.6" stroke="#1c1c1c" stroke-width="0.7" />
<line x1="754.2" y1="62.8" x2="761.1" y2="63.6" stroke="#1c1c1c" stroke-width="0.7" />
<line x1="755.7" y1="68.8" x2="763.0" y2="69.6" stroke="#1c1c1c" stroke-width="0.7" />
<line x1="757.2" y1="74.8" x2="764.8" y2="75.6" stroke="#1c1c1c" stroke-width="0.7" />
<line x1="758.0" y1="80.8" x2="766.2" y2="81.6" stroke="#1c1c1c" stroke-width="0.7" />
<line x1="758.8" y1="86.8" x2="767.6" y2="87.6" stroke="#1c1c1c" stroke-width="0.7" />
<line x1="759.7" y1="92.8" x2="769.0" y2="93.6" stroke="#1c1c1c" stroke-width="0.7" />
<rect x="760.8" y="13.9" width="7.4" height="14.9" rx="3.5" stroke="#1c1c1c" stroke-width="1.6" fill="#444" />
<line x1="764.5" y1="16.0" x2="764.5" y2="27.0" stroke="#fff" stroke-width="0.8" />
<path d="M775.5,39.9 Q777,62 763,77 L758.5,72 Q770,58 770.5,39.9 Z" stroke="#1c1c1c" stroke-width="0.9" fill="#fff" stroke-linecap="round" stroke-linejoin="round" />
<line x1="767.5" y1="40.0" x2="757.5" y2="68.0" stroke="#1c1c1c" stroke-width="1.5" />
<rect x="749.7" y="33.4" width="26.0" height="6.5" rx="0" stroke="#1c1c1c" stroke-width="1.0" fill="#fff" />
<text x="805.3" y="35.0" font-family="Liberation Sans" font-size="9.2" fill="#262626" stroke="#fff" stroke-width="0" text-anchor="start" font-weight="normal"  textLength="50.0" lengthAdjust="spacingAndGlyphs">18 Gun Sloop.</text>
<line x1="805.3" y1="36.5" x2="855.4" y2="36.5" stroke="#1c1c1c" stroke-width="0.8" />
<text x="810.0" y="51.0" font-family="Liberation Sans" font-size="8.049999999999999" fill="#262626" stroke="#fff" stroke-width="0" text-anchor="start" font-weight="normal"  textLength="16.0" lengthAdjust="spacingAndGlyphs">circa</text>
<text x="831.0" y="51.0" font-family="Liberation Sans" font-size="12.649999999999999" fill="#262626" stroke="#fff" stroke-width="0.35" text-anchor="start" font-weight="normal"  textLength="23.5" lengthAdjust="spacingAndGlyphs">1760</text>
<line x1="809.0" y1="53.5" x2="856.0" y2="53.5" stroke="#1c1c1c" stroke-width="0.8" />
<line x1="772.9" y1="64.0" x2="785.9" y2="89.0" stroke="#1c1c1c" stroke-width="0.7" />
<text x="787.7" y="99.0" font-family="Liberation Sans" font-size="7.475" fill="#262626" stroke="#fff" stroke-width="0" text-anchor="start" font-weight="normal"  textLength="49.0" lengthAdjust="spacingAndGlyphs">Note curvature</text>
<path d="M508.5,172.7 Q509,195 512.3,207.3 Q518,232 528.7,247.7 Q537,265 539.2,295.8" stroke="#1c1c1c" stroke-width="1.0" fill="none" stroke-linecap="round" stroke-linejoin="round" />
<polygon points="519.0,168.8 521.9,213.0 537.3,247.7 549.8,295.8 560.4,295.8 545.0,242.0 531.5,220.8 521.0,168.8" fill="url(#hp2)" stroke="#1c1c1c" stroke-width="0.9"/>
<line x1="519.4" y1="175.3" x2="522.5" y2="176.1" stroke="#1c1c1c" stroke-width="0.7" />
<line x1="519.9" y1="181.8" x2="523.8" y2="182.6" stroke="#1c1c1c" stroke-width="0.7" />
<line x1="520.3" y1="188.3" x2="525.1" y2="189.1" stroke="#1c1c1c" stroke-width="0.7" />
<line x1="520.7" y1="194.8" x2="526.4" y2="195.6" stroke="#1c1c1c" stroke-width="0.7" />
<line x1="521.1" y1="201.3" x2="527.7" y2="202.1" stroke="#1c1c1c" stroke-width="0.7" />
<line x1="521.6" y1="207.8" x2="529.0" y2="208.6" stroke="#1c1c1c" stroke-width="0.7" />
<line x1="522.5" y1="214.3" x2="530.3" y2="215.1" stroke="#1c1c1c" stroke-width="0.7" />
<line x1="525.4" y1="220.8" x2="532.0" y2="221.6" stroke="#1c1c1c" stroke-width="0.7" />
<line x1="528.2" y1="227.3" x2="536.1" y2="228.1" stroke="#1c1c1c" stroke-width="0.7" />
<line x1="531.1" y1="233.8" x2="540.3" y2="234.6" stroke="#1c1c1c" stroke-width="0.7" />
<line x1="534.0" y1="240.3" x2="544.4" y2="241.1" stroke="#1c1c1c" stroke-width="0.7" />
<line x1="536.9" y1="246.8" x2="546.6" y2="247.6" stroke="#1c1c1c" stroke-width="0.7" />
<line x1="538.8" y1="253.3" x2="548.5" y2="254.1" stroke="#1c1c1c" stroke-width="0.7" />
<line x1="540.4" y1="259.8" x2="550.3" y2="260.6" stroke="#1c1c1c" stroke-width="0.7" />
<line x1="542.1" y1="266.3" x2="552.2" y2="267.1" stroke="#1c1c1c" stroke-width="0.7" />
<line x1="543.8" y1="272.8" x2="554.0" y2="273.6" stroke="#1c1c1c" stroke-width="0.7" />
<line x1="545.5" y1="279.3" x2="555.9" y2="280.1" stroke="#1c1c1c" stroke-width="0.7" />
<line x1="547.2" y1="285.8" x2="557.8" y2="286.6" stroke="#1c1c1c" stroke-width="0.7" />
<line x1="548.9" y1="292.3" x2="559.6" y2="293.1" stroke="#1c1c1c" stroke-width="0.7" />
<rect x="528.7" y="152.5" width="8.6" height="16.3" rx="4.3" stroke="#1c1c1c" stroke-width="1.2" fill="#fff" />
<line x1="533.0" y1="155.0" x2="533.0" y2="166.0" stroke="#1c1c1c" stroke-width="0.6" />
<rect x="520.0" y="172.7" width="26.9" height="5.8" rx="2" stroke="#1c1c1c" stroke-width="1.0" fill="#fff" />
<rect x="530.6" y="216.0" width="12.4" height="7.7" rx="2" stroke="#1c1c1c" stroke-width="1.0" fill="#fff" />
<line x1="534.4" y1="178.5" x2="527.7" y2="216.0" stroke="#1c1c1c" stroke-width="0.8" />
<line x1="511.0" y1="182.0" x2="519.0" y2="182.0" stroke="#666" stroke-width="0.6" stroke-dasharray="2,2"/>
<line x1="511.0" y1="202.0" x2="519.0" y2="202.0" stroke="#666" stroke-width="0.6" stroke-dasharray="2,2"/>
<line x1="511.0" y1="247.0" x2="519.0" y2="247.0" stroke="#666" stroke-width="0.6" stroke-dasharray="2,2"/>
<line x1="511.0" y1="266.0" x2="519.0" y2="266.0" stroke="#666" stroke-width="0.6" stroke-dasharray="2,2"/>
<line x1="511.0" y1="280.0" x2="519.0" y2="280.0" stroke="#666" stroke-width="0.6" stroke-dasharray="2,2"/>
<text x="568.0" y="167.0" font-family="Liberation Sans" font-size="9.774999999999999" fill="#262626" stroke="#fff" stroke-width="0" text-anchor="start" font-weight="normal"  textLength="90.5" lengthAdjust="spacingAndGlyphs">"Ajax" 74 Guns. 1767</text>
<line x1="567.0" y1="170.0" x2="659.4" y2="170.0" stroke="#1c1c1c" stroke-width="0.9" />
<text x="568.0" y="203.0" font-family="Liberation Sans" font-size="8.625" fill="#262626" stroke="#fff" stroke-width="0" text-anchor="start" font-weight="normal"  textLength="90.5" lengthAdjust="spacingAndGlyphs">Note:- 1  Billboard omitted</text>
<text x="593.0" y="215.5" font-family="Liberation Sans" font-size="8.625" fill="#262626" stroke="#fff" stroke-width="0" text-anchor="start" font-weight="normal"  textLength="55.8" lengthAdjust="spacingAndGlyphs">2  Lining covers</text>
<text x="604.6" y="227.0" font-family="Liberation Sans" font-size="8.625" fill="#262626" stroke="#fff" stroke-width="0" text-anchor="start" font-weight="normal"  textLength="48.0" lengthAdjust="spacingAndGlyphs">the Main Wale</text>
<line x1="689.7" y1="172.6" x2="709.0" y2="172.6" stroke="#888" stroke-width="0.6" />
<line x1="689.7" y1="177.5" x2="709.0" y2="177.5" stroke="#888" stroke-width="0.6" />
<rect x="709.0" y="173.6" width="94.7" height="4.1" rx="0" stroke="#1c1c1c" stroke-width="1.3" fill="#777" />
<circle cx="733.9" cy="163.4" r="6.7" stroke="#1c1c1c" stroke-width="1.6" fill="#fff"/>
<circle cx="733.9" cy="160.9" r="1.34" fill="#1c1c1c"/>
<circle cx="731.7" cy="164.7" r="1.34" fill="#1c1c1c"/>
<circle cx="736.1" cy="164.7" r="1.34" fill="#1c1c1c"/>
<circle cx="756.3" cy="163.4" r="6.7" stroke="#1c1c1c" stroke-width="1.6" fill="#fff"/>
<circle cx="756.3" cy="160.9" r="1.34" fill="#1c1c1c"/>
<circle cx="754.1" cy="164.7" r="1.34" fill="#1c1c1c"/>
<circle cx="758.5" cy="164.7" r="1.34" fill="#1c1c1c"/>
<circle cx="778.3" cy="163.4" r="6.7" stroke="#1c1c1c" stroke-width="1.6" fill="#fff"/>
<circle cx="778.3" cy="160.9" r="1.34" fill="#1c1c1c"/>
<circle cx="776.1" cy="164.7" r="1.34" fill="#1c1c1c"/>
<circle cx="780.5" cy="164.7" r="1.34" fill="#1c1c1c"/>
<line x1="683.6" y1="188.9" x2="808.8" y2="188.9" stroke="#666" stroke-width="0.7" />
<line x1="683.6" y1="193.3" x2="808.8" y2="193.3" stroke="#666" stroke-width="0.7" />
<rect x="701.3" y="185.8" width="21.0" height="22.4" rx="0" stroke="#555" stroke-width="0.7" fill="#fff" />
<rect x="705.1" y="184.8" width="2.8" height="16.1" rx="1.4" stroke="#1c1c1c" stroke-width="1.0" fill="#888"/>
<circle cx="706.5" cy="203.3" r="2.4" stroke="#1c1c1c" stroke-width="1.1" fill="#fff"/>
<rect x="717.6" y="184.8" width="2.8" height="16.1" rx="1.4" stroke="#1c1c1c" stroke-width="1.0" fill="#888"/>
<circle cx="719.0" cy="203.3" r="2.4" stroke="#1c1c1c" stroke-width="1.1" fill="#fff"/>
<path d="M733.5,177.7 Q735,200 738.6,214.3" stroke="#1c1c1c" stroke-width="2.2" fill="none" stroke-linecap="round" stroke-linejoin="round" />
<path d="M733.5,177.7 Q735,200 738.6,214.3" stroke="#fff" stroke-width="0.8" fill="none" stroke-linecap="round" stroke-linejoin="round" />
<path d="M756.3,177.7 Q757,200 762,214.3" stroke="#1c1c1c" stroke-width="2.2" fill="none" stroke-linecap="round" stroke-linejoin="round" />
<path d="M756.3,177.7 Q757,200 762,214.3" stroke="#fff" stroke-width="0.8" fill="none" stroke-linecap="round" stroke-linejoin="round" />
<path d="M780.3,177.7 Q782,210 796.6,229.6" stroke="#1c1c1c" stroke-width="2.2" fill="none" stroke-linecap="round" stroke-linejoin="round" />
<path d="M780.3,177.7 Q782,210 796.6,229.6" stroke="#fff" stroke-width="0.8" fill="none" stroke-linecap="round" stroke-linejoin="round" />
<circle cx="796.6" cy="229.6" r="1.6" stroke="#1c1c1c" stroke-width="0.9" fill="#1c1c1c"/>
<line x1="671.4" y1="215.7" x2="816.0" y2="215.7" stroke="#333" stroke-width="0.9" />
<line x1="671.4" y1="222.5" x2="816.0" y2="222.5" stroke="#444" stroke-width="0.8" />
<line x1="671.4" y1="230.6" x2="816.0" y2="230.6" stroke="#444" stroke-width="0.8" />
<line x1="671.4" y1="236.7" x2="816.0" y2="236.7" stroke="#444" stroke-width="0.8" />
<line x1="671.4" y1="245.0" x2="816.0" y2="245.0" stroke="#bbb" stroke-width="0.4" />
<line x1="650.0" y1="275.4" x2="816.0" y2="275.4" stroke="#bbb" stroke-width="0.4" />
<rect x="714.1" y="215.7" width="61.7" height="8.2" rx="0" stroke="#1c1c1c" stroke-width="1.0" fill="#fff" />
<line x1="772.2" y1="223.9" x2="772.2" y2="286.6" stroke="#1c1c1c" stroke-width="0.8" />
<path d="M718.2,223.9 Q712,262 650,286.6" stroke="#1c1c1c" stroke-width="1.2" fill="none" stroke-linecap="round" stroke-linejoin="round" />
<rect x="654.0" y="249.0" width="26.1" height="26.4" rx="0" stroke="#555" stroke-width="0.7" fill="#fff" />
<rect x="659.1" y="248.0" width="2.8" height="19.0" rx="1.4" stroke="#1c1c1c" stroke-width="1.0" fill="#888"/>
<circle cx="660.5" cy="269.6" r="2.4" stroke="#1c1c1c" stroke-width="1.1" fill="#fff"/>
<rect x="673.4" y="248.0" width="2.8" height="19.0" rx="1.4" stroke="#1c1c1c" stroke-width="1.0" fill="#888"/>
<circle cx="674.8" cy="269.6" r="2.4" stroke="#1c1c1c" stroke-width="1.1" fill="#fff"/>
<rect x="764.0" y="246.9" width="26.5" height="28.5" rx="0" stroke="#555" stroke-width="0.7" fill="#fff" />
<rect x="768.6" y="245.9" width="2.8" height="20.5" rx="1.4" stroke="#1c1c1c" stroke-width="1.0" fill="#888"/>
<circle cx="770.0" cy="269.1" r="2.4" stroke="#1c1c1c" stroke-width="1.1" fill="#fff"/>
<rect x="783.4" y="245.9" width="2.8" height="20.5" rx="1.4" stroke="#1c1c1c" stroke-width="1.0" fill="#888"/>
<circle cx="784.8" cy="269.1" r="2.4" stroke="#1c1c1c" stroke-width="1.1" fill="#fff"/>
<path d="M621.9,293 L630,287.6 L823.1,287.6 L823.1,298.8 L630,298.8 Z" stroke="#1c1c1c" stroke-width="0" fill="#1c1c1c" stroke-linecap="round" stroke-linejoin="round" />
<line x1="513.0" y1="345.4" x2="659.0" y2="345.4" stroke="#777" stroke-width="1.8" />
<line x1="513.0" y1="349.2" x2="659.0" y2="349.2" stroke="#999" stroke-width="0.6" />
<line x1="512.0" y1="365.5" x2="659.0" y2="365.5" stroke="#888" stroke-width="0.6" />
<line x1="512.0" y1="376.2" x2="659.0" y2="376.2" stroke="#888" stroke-width="2.2" />
<line x1="512.0" y1="386.0" x2="659.0" y2="386.0" stroke="#aaa" stroke-width="0.5" />
<line x1="512.0" y1="396.0" x2="659.0" y2="396.0" stroke="#999" stroke-width="0.5" />
<line x1="512.0" y1="404.0" x2="659.0" y2="404.0" stroke="#666" stroke-width="0.8" />
<line x1="512.0" y1="412.7" x2="659.0" y2="412.7" stroke="#555" stroke-width="0.8" />
<line x1="512.0" y1="420.4" x2="659.0" y2="420.4" stroke="#555" stroke-width="0.8" />
<line x1="512.0" y1="430.0" x2="659.0" y2="430.0" stroke="#aaa" stroke-width="0.5" />
<line x1="512.0" y1="438.0" x2="659.0" y2="438.0" stroke="#999" stroke-width="0.5" />
<line x1="512.0" y1="446.0" x2="659.0" y2="446.0" stroke="#aaa" stroke-width="0.5" />
<line x1="512.0" y1="453.0" x2="659.0" y2="453.0" stroke="#999" stroke-width="0.5" />
<line x1="532.3" y1="357.0" x2="659.2" y2="357.0" stroke="#1c1c1c" stroke-width="1.3" />
<line x1="532.3" y1="360.8" x2="659.2" y2="360.8" stroke="#1c1c1c" stroke-width="1.2" />
<circle cx="555.4" cy="348.3" r="6.3" stroke="#1c1c1c" stroke-width="1.6" fill="#fff"/>
<circle cx="555.4" cy="345.9" r="1.26" fill="#1c1c1c"/>
<circle cx="553.3" cy="349.5" r="1.26" fill="#1c1c1c"/>
<circle cx="557.5" cy="349.5" r="1.26" fill="#1c1c1c"/>
<circle cx="569.2" cy="348.3" r="6.3" stroke="#1c1c1c" stroke-width="1.6" fill="#fff"/>
<circle cx="569.2" cy="345.9" r="1.26" fill="#1c1c1c"/>
<circle cx="567.1" cy="349.5" r="1.26" fill="#1c1c1c"/>
<circle cx="571.3" cy="349.5" r="1.26" fill="#1c1c1c"/>
<circle cx="583.7" cy="348.3" r="6.3" stroke="#1c1c1c" stroke-width="1.6" fill="#fff"/>
<circle cx="583.7" cy="345.9" r="1.26" fill="#1c1c1c"/>
<circle cx="581.6" cy="349.5" r="1.26" fill="#1c1c1c"/>
<circle cx="585.8" cy="349.5" r="1.26" fill="#1c1c1c"/>
<circle cx="600.0" cy="352.1" r="3.4" stroke="#1c1c1c" stroke-width="1.1" fill="#fff"/>
<line x1="600.5" y1="361.0" x2="600.5" y2="369.0" stroke="#1c1c1c" stroke-width="1.5" />
<polygon points="555.4,360.8 577.5,360.8 581.3,407.9 549.6,407.9" stroke="#1c1c1c" stroke-width="1.0" fill="#fff" stroke-linejoin="round" />
<line x1="553.0" y1="376.2" x2="580.0" y2="376.2" stroke="#aaa" stroke-width="0.5" />
<line x1="553.0" y1="386.0" x2="580.0" y2="386.0" stroke="#aaa" stroke-width="0.5" />
<line x1="553.0" y1="396.0" x2="580.0" y2="396.0" stroke="#aaa" stroke-width="0.5" />
<line x1="553.0" y1="404.0" x2="580.0" y2="404.0" stroke="#aaa" stroke-width="0.5" />
<rect x="541.9" y="407.9" width="43.3" height="4.8" rx="0" stroke="#1c1c1c" stroke-width="1.0" fill="#fff" />
<path d="M547.7,412.7 Q538,440 506.3,459.8" stroke="#1c1c1c" stroke-width="1.0" fill="none" stroke-linecap="round" stroke-linejoin="round" />
<path d="M584.2,412.7 Q585,440 568.8,459.8" stroke="#1c1c1c" stroke-width="1.0" fill="none" stroke-linecap="round" stroke-linejoin="round" />
<path d="M584.2,360.8 Q588,395 597.7,417.5" stroke="#1c1c1c" stroke-width="2.0" fill="none" stroke-linecap="round" stroke-linejoin="round" />
<path d="M584.2,360.8 Q588,395 597.7,417.5" stroke="#fff" stroke-width="0.7" fill="none" stroke-linecap="round" stroke-linejoin="round" />
<circle cx="597.7" cy="417.5" r="1.6" stroke="#1c1c1c" stroke-width="0.9" fill="#1c1c1c"/>
<rect x="603.5" y="369.4" width="23.0" height="24.1" rx="0" stroke="#555" stroke-width="0.7" fill="#fff" />
<rect x="607.1" y="368.4" width="2.8" height="17.4" rx="1.4" stroke="#1c1c1c" stroke-width="1.0" fill="#888"/>
<circle cx="608.5" cy="388.2" r="2.4" stroke="#1c1c1c" stroke-width="1.1" fill="#fff"/>
<rect x="620.1" y="368.4" width="2.8" height="17.4" rx="1.4" stroke="#1c1c1c" stroke-width="1.0" fill="#888"/>
<circle cx="621.5" cy="388.2" r="2.4" stroke="#1c1c1c" stroke-width="1.1" fill="#fff"/>
<rect x="546.7" y="426.2" width="23.1" height="25.0" rx="0" stroke="#555" stroke-width="0.7" fill="#fff" />
<rect x="551.1" y="425.2" width="2.8" height="18.0" rx="1.4" stroke="#1c1c1c" stroke-width="1.0" fill="#888"/>
<circle cx="552.5" cy="445.7" r="2.4" stroke="#1c1c1c" stroke-width="1.1" fill="#fff"/>
<rect x="563.1" y="425.2" width="2.8" height="18.0" rx="1.4" stroke="#1c1c1c" stroke-width="1.0" fill="#888"/>
<circle cx="564.5" cy="445.7" r="2.4" stroke="#1c1c1c" stroke-width="1.1" fill="#fff"/>
<path d="M496.7,459.8 L671.2,459.8 L669,465 L671.5,470 L669,476 L671.2,484.8 L496.7,484.8 L498,478 L496,470 L498,464 Z" stroke="#1c1c1c" stroke-width="0" fill="#1c1c1c" stroke-linecap="round" stroke-linejoin="round" />
<text x="683.7" y="357.0" font-family="Liberation Sans" font-size="11.5" fill="#262626" stroke="#fff" stroke-width="0" text-anchor="start" font-weight="normal"  textLength="40.3" lengthAdjust="spacingAndGlyphs">3rd Rate</text>
<line x1="682.7" y1="360.4" x2="726.9" y2="360.4" stroke="#1c1c1c" stroke-width="0.9" />
<text x="684.6" y="371.0" font-family="Liberation Sans" font-size="8.049999999999999" fill="#262626" stroke="#fff" stroke-width="0" text-anchor="start" font-weight="normal"  textLength="17.0" lengthAdjust="spacingAndGlyphs">circa</text>
<text x="706.0" y="371.0" font-family="Liberation Sans" font-size="12.649999999999999" fill="#262626" stroke="#fff" stroke-width="0.35" text-anchor="start" font-weight="normal"  textLength="22.8" lengthAdjust="spacingAndGlyphs">1782</text>
<line x1="684.6" y1="373.0" x2="728.8" y2="373.0" stroke="#1c1c1c" stroke-width="0.9" />
<text x="683.7" y="399.0" font-family="Liberation Sans" font-size="8.625" fill="#262626" stroke="#fff" stroke-width="0" text-anchor="start" font-weight="normal"  textLength="68.3" lengthAdjust="spacingAndGlyphs">Note:- The Billboard</text>
<text x="683.7" y="411.0" font-family="Liberation Sans" font-size="8.625" fill="#262626" stroke="#fff" stroke-width="0" text-anchor="start" font-weight="normal"  textLength="66.3" lengthAdjust="spacingAndGlyphs">is tapered on both</text>
<text x="682.7" y="424.5" font-family="Liberation Sans" font-size="8.625" fill="#262626" stroke="#fff" stroke-width="0" text-anchor="start" font-weight="normal"  textLength="80.8" lengthAdjust="spacingAndGlyphs">it fore and after sides.</text>
<text x="681.7" y="435.5" font-family="Liberation Sans" font-size="8.625" fill="#262626" stroke="#fff" stroke-width="0" text-anchor="start" font-weight="normal"  textLength="83.7" lengthAdjust="spacingAndGlyphs">This was not Standard.</text>
<path d="M759.6,339.6 Q760,375 765.4,397.3 Q772,422 780.8,441.5 Q788,460 792.3,479" stroke="#1c1c1c" stroke-width="1.0" fill="none" stroke-linecap="round" stroke-linejoin="round" />
<polygon points="764.4,339.6 773.0,397.3 790.4,437.7 800.0,478.0 809.6,478.0 802.0,445.4 790.4,412.7 777.0,387.7 770.2,339.6" fill="url(#hp2)" stroke="#1c1c1c" stroke-width="0.9"/>
<line x1="765.4" y1="346.1" x2="771.2" y2="346.9" stroke="#1c1c1c" stroke-width="0.7" />
<line x1="766.3" y1="352.6" x2="772.2" y2="353.4" stroke="#1c1c1c" stroke-width="0.7" />
<line x1="767.3" y1="359.1" x2="773.1" y2="359.9" stroke="#1c1c1c" stroke-width="0.7" />
<line x1="768.3" y1="365.6" x2="774.0" y2="366.4" stroke="#1c1c1c" stroke-width="0.7" />
<line x1="769.2" y1="372.1" x2="774.9" y2="372.9" stroke="#1c1c1c" stroke-width="0.7" />
<line x1="770.2" y1="378.6" x2="775.8" y2="379.4" stroke="#1c1c1c" stroke-width="0.7" />
<line x1="771.2" y1="385.1" x2="776.7" y2="385.9" stroke="#1c1c1c" stroke-width="0.7" />
<line x1="772.2" y1="391.6" x2="779.5" y2="392.4" stroke="#1c1c1c" stroke-width="0.7" />
<line x1="773.3" y1="398.1" x2="783.0" y2="398.9" stroke="#1c1c1c" stroke-width="0.7" />
<line x1="776.1" y1="404.6" x2="786.5" y2="405.4" stroke="#1c1c1c" stroke-width="0.7" />
<line x1="778.9" y1="411.1" x2="790.0" y2="411.9" stroke="#1c1c1c" stroke-width="0.7" />
<line x1="781.7" y1="417.6" x2="792.4" y2="418.4" stroke="#1c1c1c" stroke-width="0.7" />
<line x1="784.5" y1="424.1" x2="794.7" y2="424.9" stroke="#1c1c1c" stroke-width="0.7" />
<line x1="787.3" y1="430.6" x2="797.0" y2="431.4" stroke="#1c1c1c" stroke-width="0.7" />
<line x1="790.1" y1="437.1" x2="799.3" y2="437.9" stroke="#1c1c1c" stroke-width="0.7" />
<line x1="791.8" y1="443.6" x2="801.6" y2="444.4" stroke="#1c1c1c" stroke-width="0.7" />
<line x1="793.4" y1="450.1" x2="803.3" y2="450.9" stroke="#1c1c1c" stroke-width="0.7" />
<line x1="794.9" y1="456.6" x2="804.8" y2="457.4" stroke="#1c1c1c" stroke-width="0.7" />
<line x1="796.5" y1="463.1" x2="806.3" y2="463.9" stroke="#1c1c1c" stroke-width="0.7" />
<line x1="798.0" y1="469.6" x2="807.8" y2="470.4" stroke="#1c1c1c" stroke-width="0.7" />
<line x1="799.5" y1="476.1" x2="809.3" y2="476.9" stroke="#1c1c1c" stroke-width="0.7" />
<rect x="787.5" y="333.8" width="6.7" height="21.2" rx="3.3" stroke="#1c1c1c" stroke-width="1.8" fill="#555" />
<line x1="790.8" y1="337.0" x2="790.8" y2="352.0" stroke="#fff" stroke-width="0.8" />
<rect x="770.2" y="356.0" width="35.6" height="4.8" rx="2" stroke="#1c1c1c" stroke-width="1.0" fill="#fff" />
<polygon points="797.0,360.8 802.0,360.8 786.5,402.0 781.5,401.0" stroke="#1c1c1c" stroke-width="0.9" fill="#fff" stroke-linejoin="round" />
<rect x="782.7" y="403.0" width="8.6" height="7.8" rx="2" stroke="#1c1c1c" stroke-width="1.0" fill="#fff" />
<text x="530.9" y="517.0" font-family="Liberation Sans" font-size="9.2" fill="#262626" stroke="#fff" stroke-width="0" text-anchor="start" font-weight="normal"  textLength="256.7" lengthAdjust="spacingAndGlyphs">Wedge shaped Block fitted to receive the Palm of the Anchor.</text>
<line x1="530.9" y1="520.2" x2="786.6" y2="520.2" stroke="#1c1c1c" stroke-width="0.9" />
<line x1="496.3" y1="532.6" x2="660.4" y2="532.6" stroke="#1c1c1c" stroke-width="1.1" />
<line x1="487.0" y1="544.8" x2="625.6" y2="544.8" stroke="#777" stroke-width="0.7" />
<line x1="487.0" y1="547.5" x2="625.6" y2="547.5" stroke="#888" stroke-width="1.0" />
<line x1="487.0" y1="550.5" x2="625.6" y2="550.5" stroke="#666" stroke-width="0.9" />
<line x1="487.0" y1="553.8" x2="625.6" y2="553.8" stroke="#777" stroke-width="0.7" />
<line x1="489.0" y1="571.3" x2="660.4" y2="571.3" stroke="#333" stroke-width="0.9" />
<line x1="489.0" y1="585.5" x2="660.4" y2="585.5" stroke="#333" stroke-width="0.9" />
<line x1="487.0" y1="600.8" x2="660.4" y2="600.8" stroke="#333" stroke-width="0.9" />
<line x1="487.0" y1="615.0" x2="660.4" y2="615.0" stroke="#333" stroke-width="0.9" />
<line x1="487.0" y1="633.4" x2="660.4" y2="633.4" stroke="#333" stroke-width="1.0" />
<line x1="487.0" y1="651.7" x2="660.4" y2="651.7" stroke="#333" stroke-width="1.0" />
<line x1="625.6" y1="531.6" x2="625.6" y2="600.8" stroke="#1c1c1c" stroke-width="1.1" />
<line x1="622.5" y1="535" x2="622.5" y2="652" stroke="#222" stroke-width="1.1" stroke-dasharray="1.2,4"/>
<rect x="626" y="533.5" width="40" height="66.5" fill="#fff"/>
<line x1="625.6" y1="532.6" x2="665.0" y2="532.6" stroke="#1c1c1c" stroke-width="1.1" />
<line x1="625.6" y1="600.8" x2="665.0" y2="600.8" stroke="#1c1c1c" stroke-width="1.1" />
<text x="632.7" y="583.0" font-family="Liberation Sans" font-size="9.2" fill="#262626" stroke="#fff" stroke-width="0" text-anchor="start" font-weight="normal"  textLength="28.0" lengthAdjust="spacingAndGlyphs">Gunport</text>
<rect x="549.2" y="571.3" width="29.6" height="57.0" rx="0" stroke="#1c1c1c" stroke-width="1.1" fill="#fff" />
<line x1="549.2" y1="610.0" x2="578.8" y2="610.0" stroke="#1c1c1c" stroke-width="0.8" />
<text x="551.0" y="622.0" font-family="Liberation Sans" font-size="5.175" fill="#888" stroke="#fff" stroke-width="0" text-anchor="start" font-weight="normal"  textLength="25.0" lengthAdjust="spacingAndGlyphs">BILLBOARD</text>
<polygon points="570.5,576.5 574.5,578.5 554.5,607.5 550.5,605.5" stroke="#1c1c1c" stroke-width="0.9" fill="#fff" stroke-linejoin="round" />
<text x="572.6" y="563.5" font-family="Liberation Sans" font-size="10.35" fill="#262626" stroke="#fff" stroke-width="0" text-anchor="start" font-weight="normal"  textLength="15.4" lengthAdjust="spacingAndGlyphs">Slot</text>
<path d="M569.6,559 Q561,562 562.5,582.5" stroke="#1c1c1c" stroke-width="0.8" fill="none" stroke-linecap="round" stroke-linejoin="round" />
<path d="M560.5,578.5 L562.5,582.5 L564.5,578" stroke="#1c1c1c" stroke-width="0.8" fill="none" stroke-linecap="round" stroke-linejoin="round" />
<polyline points="528.7,622.7 516.5,655.3" stroke="#1c1c1c" stroke-width="0.9" fill="none" stroke-linejoin="round" />
<polyline points="531.1,623.7 518.9,656.3" stroke="#1c1c1c" stroke-width="0.9" fill="none" stroke-linejoin="round" />
<circle cx="529.9" cy="623.2" r="3.2" stroke="#1c1c1c" stroke-width="1.1" fill="#fff"/>
<circle cx="529.9" cy="623.2" r="1.3" stroke="#1c1c1c" stroke-width="0.8" fill="none"/>
<polyline points="586.7,625.7 574.5,657.3" stroke="#1c1c1c" stroke-width="0.9" fill="none" stroke-linejoin="round" />
<polyline points="589.1,626.7 576.9,658.3" stroke="#1c1c1c" stroke-width="0.9" fill="none" stroke-linejoin="round" />
<circle cx="587.9" cy="626.2" r="3.2" stroke="#1c1c1c" stroke-width="1.1" fill="#fff"/>
<circle cx="587.9" cy="626.2" r="1.3" stroke="#1c1c1c" stroke-width="0.8" fill="none"/>
<polyline points="613.2,626.8 602.0,655.3" stroke="#1c1c1c" stroke-width="0.9" fill="none" stroke-linejoin="round" />
<polyline points="615.6,627.8 604.4,656.3" stroke="#1c1c1c" stroke-width="0.9" fill="none" stroke-linejoin="round" />
<circle cx="614.4" cy="627.3" r="3.2" stroke="#1c1c1c" stroke-width="1.1" fill="#fff"/>
<circle cx="614.4" cy="627.3" r="1.3" stroke="#1c1c1c" stroke-width="0.8" fill="none"/>
<text x="605.2" y="671.5" font-family="Liberation Sans" font-size="9.2" fill="#262626" stroke="#fff" stroke-width="0" text-anchor="start" font-weight="normal"  textLength="78.6" lengthAdjust="spacingAndGlyphs">This type was fitted</text>
<text x="605.2" y="685.0" font-family="Liberation Sans" font-size="9.2" fill="#262626" stroke="#fff" stroke-width="0" text-anchor="start" font-weight="normal"  textLength="95.8" lengthAdjust="spacingAndGlyphs">to  HMS 'Victory' in 1804.</text>
<path d="M692,542.8 Q698,605 711.3,657.8" stroke="#1c1c1c" stroke-width="1.1" fill="none" stroke-linecap="round" stroke-linejoin="round" />
<polygon points="711.3,539.7 714.3,571.3 722.5,613.0 733.7,656.8 751.0,654.8 739.8,613.0 729.6,613.0 721.4,571.3 718.4,539.7" fill="url(#hp2)" stroke="#1c1c1c" stroke-width="0.9"/>
<line x1="717.9" y1="589.7" x2="725.2" y2="590.5" stroke="#1c1c1c" stroke-width="0.7" />
<line x1="729.3" y1="639.7" x2="747.2" y2="640.5" stroke="#1c1c1c" stroke-width="0.7" />
<line x1="712.0" y1="552.0" x2="719.5" y2="553.0" stroke="#1c1c1c" stroke-width="0.9" />
<line x1="713.5" y1="569.0" x2="721.0" y2="570.0" stroke="#1c1c1c" stroke-width="0.9" />
<line x1="716.0" y1="585.0" x2="724.0" y2="586.0" stroke="#1c1c1c" stroke-width="0.9" />
<line x1="719.0" y1="598.0" x2="727.0" y2="599.0" stroke="#1c1c1c" stroke-width="0.9" />
<line x1="722.5" y1="613.0" x2="740.0" y2="614.0" stroke="#1c1c1c" stroke-width="0.9" />
<line x1="727.0" y1="631.0" x2="745.0" y2="632.0" stroke="#1c1c1c" stroke-width="0.9" />
<path d="M721.4,569.2 L763.2,611 Q758,616 752,614 Q749,622 743.8,628.3" stroke="#1c1c1c" stroke-width="0.9" fill="none" stroke-linecap="round" stroke-linejoin="round" />
<polyline points="730.6,577.4 770.3,546.8" stroke="#888" stroke-width="0.9" stroke-dasharray="1,3" fill="none"/>
<polyline points="738,612 770,590" stroke="#888" stroke-width="0.9" stroke-dasharray="1,3" fill="none"/>
<polyline points="726,580 737,611" stroke="#888" stroke-width="0.9" stroke-dasharray="1,3" fill="none"/>
<path d="M775.6,540.8 C786,549 800,541 812.9,555.1 L798.6,569.4 L807.4,574.9 M800.8,578.2 L791,570.9 L776.7,581.4 Q779,560 775.6,540.8" stroke="#1c1c1c" stroke-width="1.2" fill="none" stroke-linecap="round" stroke-linejoin="round" />
<circle cx="775.5" cy="542.5" r="1.3" stroke="#1c1c1c" stroke-width="0.9" fill="#1c1c1c"/>
<path d="M783.6,567.5 Q785,585 790.7,597.6" stroke="#1c1c1c" stroke-width="0.8" fill="none" stroke-linecap="round" stroke-linejoin="round" />
<text x="795.5" y="606.0" font-family="Liberation Sans" font-size="9.2" fill="#262626" stroke="#fff" stroke-width="0" text-anchor="start" font-weight="normal"  textLength="24.5" lengthAdjust="spacingAndGlyphs">Anchor</text>
<text x="808.0" y="616.0" font-family="Liberation Sans" font-size="9.2" fill="#262626" stroke="#fff" stroke-width="0" text-anchor="start" font-weight="normal"  textLength="15.0" lengthAdjust="spacingAndGlyphs">Palm</text>
<path d="M757,614 Q763,622 768.3,626.2" stroke="#1c1c1c" stroke-width="0.8" fill="none" stroke-linecap="round" stroke-linejoin="round" />
<text x="771.0" y="629.0" font-family="Liberation Sans" font-size="10.35" fill="#262626" stroke="#fff" stroke-width="0" text-anchor="start" font-weight="normal"  textLength="20.5" lengthAdjust="spacingAndGlyphs">Block</text>
<rect x="503.6" y="745.4" width="6.8" height="4.5" rx="1" stroke="#1c1c1c" stroke-width="1.0" fill="#fff" />
<path d="M504.7,749.9 Q505,775 507,792.9 Q510,818 514.9,838.1 Q517,850 518.3,861.9" stroke="#1c1c1c" stroke-width="1.0" fill="none" stroke-linecap="round" stroke-linejoin="round" />
<path d="M510.4,749.9 L511.5,761.2" stroke="#1c1c1c" stroke-width="1.0" fill="none" stroke-linecap="round" stroke-linejoin="round" />
<polygon points="511.5,761.2 514.9,792.9 529.6,844.9 530.7,861.9 539.8,861.9 537.5,844.9 518.3,792.9 514.9,761.2" fill="url(#hp2)" stroke="#1c1c1c" stroke-width="0.9"/>
<line x1="512.1" y1="767.2" x2="515.6" y2="768.0" stroke="#1c1c1c" stroke-width="0.7" />
<line x1="512.8" y1="773.2" x2="516.3" y2="774.0" stroke="#1c1c1c" stroke-width="0.7" />
<line x1="513.4" y1="779.2" x2="516.9" y2="780.0" stroke="#1c1c1c" stroke-width="0.7" />
<line x1="514.1" y1="785.2" x2="517.6" y2="786.0" stroke="#1c1c1c" stroke-width="0.7" />
<line x1="514.7" y1="791.2" x2="518.2" y2="792.0" stroke="#1c1c1c" stroke-width="0.7" />
<line x1="516.1" y1="797.2" x2="520.2" y2="798.0" stroke="#1c1c1c" stroke-width="0.7" />
<line x1="517.8" y1="803.2" x2="522.4" y2="804.0" stroke="#1c1c1c" stroke-width="0.7" />
<line x1="519.5" y1="809.2" x2="524.6" y2="810.0" stroke="#1c1c1c" stroke-width="0.7" />
<line x1="521.2" y1="815.2" x2="526.8" y2="816.0" stroke="#1c1c1c" stroke-width="0.7" />
<line x1="522.9" y1="821.2" x2="529.0" y2="822.0" stroke="#1c1c1c" stroke-width="0.7" />
<line x1="524.6" y1="827.2" x2="531.3" y2="828.0" stroke="#1c1c1c" stroke-width="0.7" />
<line x1="526.3" y1="833.2" x2="533.5" y2="834.0" stroke="#1c1c1c" stroke-width="0.7" />
<line x1="528.0" y1="839.2" x2="535.7" y2="840.0" stroke="#1c1c1c" stroke-width="0.7" />
<line x1="529.6" y1="845.2" x2="537.6" y2="846.0" stroke="#1c1c1c" stroke-width="0.7" />
<line x1="530.0" y1="851.2" x2="538.5" y2="852.0" stroke="#1c1c1c" stroke-width="0.7" />
<line x1="530.4" y1="857.2" x2="539.3" y2="858.0" stroke="#1c1c1c" stroke-width="0.7" />
<line x1="507.0" y1="797.0" x2="515.0" y2="797.0" stroke="#666" stroke-width="0.6" stroke-dasharray="2,2"/>
<line x1="507.0" y1="823.0" x2="515.0" y2="823.0" stroke="#666" stroke-width="0.6" stroke-dasharray="2,2"/>
<polygon points="512.6,764.6 550.0,789.5 547.0,790.0 516.0,772.5" stroke="#1c1c1c" stroke-width="0.9" fill="#fff" stroke-linejoin="round" />
<line x1="514.0" y1="768.0" x2="549.0" y2="789.5" stroke="#1c1c1c" stroke-width="0.5" />
<rect x="512.6" y="789.5" width="38.4" height="3.4" rx="1.5" stroke="#1c1c1c" stroke-width="1.0" fill="#fff" />
<polygon points="544.0,792.9 549.5,792.9 534.0,837.0 529.5,836.0" stroke="#1c1c1c" stroke-width="0.9" fill="#fff" stroke-linejoin="round" />
<rect x="531.9" y="835.9" width="7.9" height="6.7" rx="1.5" stroke="#1c1c1c" stroke-width="1.0" fill="#fff" />
<text x="524.0" y="750.0" font-family="Liberation Sans" font-size="9.2" fill="#262626" stroke="#fff" stroke-width="0" text-anchor="start" font-weight="normal"  textLength="31.6" lengthAdjust="spacingAndGlyphs">Billboard</text>
<line x1="542.0" y1="754.4" x2="533.0" y2="775.9" stroke="#1c1c1c" stroke-width="0.7" />
<text x="579.4" y="748.5" font-family="Liberation Sans" font-size="12.649999999999999" fill="#262626" stroke="#fff" stroke-width="0.35" text-anchor="start" font-weight="normal"  textLength="89.3" lengthAdjust="spacingAndGlyphs">80 Gun ship c 1808.</text>
<line x1="579.4" y1="751.5" x2="664.0" y2="751.5" stroke="#1c1c1c" stroke-width="0.9" />
<text x="572.6" y="777.5" font-family="Liberation Sans" font-size="9.2" fill="#262626" stroke="#fff" stroke-width="0" text-anchor="start" font-weight="normal"  textLength="92.7" lengthAdjust="spacingAndGlyphs">Note how the whole of the</text>
<text x="574.8" y="794.0" font-family="Liberation Sans" font-size="9.2" fill="#262626" stroke="#fff" stroke-width="0" text-anchor="start" font-weight="normal"  textLength="90.5" lengthAdjust="spacingAndGlyphs">lining has been raised, and</text>
<text x="574.8" y="809.0" font-family="Liberation Sans" font-size="9.2" fill="#262626" stroke="#fff" stroke-width="0" text-anchor="start" font-weight="normal"  textLength="95.1" lengthAdjust="spacingAndGlyphs">the new angle of the Bill-</text>
<text x="574.8" y="823.5" font-family="Liberation Sans" font-size="9.2" fill="#262626" stroke="#fff" stroke-width="0" text-anchor="start" font-weight="normal"  textLength="83.8" lengthAdjust="spacingAndGlyphs">board above the Fore</text>
<text x="573.7" y="835.0" font-family="Liberation Sans" font-size="9.2" fill="#262626" stroke="#fff" stroke-width="0" text-anchor="start" font-weight="normal"  textLength="27.2" lengthAdjust="spacingAndGlyphs">Channel.</text>
<rect x="708.3" y="751.0" width="8.0" height="10.2" rx="0" stroke="#1c1c1c" stroke-width="1.0" fill="#fff" />
<rect x="708.0" y="747.3" width="8.6" height="6.2" rx="2.5" stroke="#1c1c1c" stroke-width="1.0" fill="#fff" />
<rect x="737.2" y="751.0" width="8.0" height="10.2" rx="0" stroke="#1c1c1c" stroke-width="1.0" fill="#fff" />
<rect x="736.9" y="747.3" width="8.6" height="6.2" rx="2.5" stroke="#1c1c1c" stroke-width="1.0" fill="#fff" />
<rect x="766.7" y="751.0" width="8.0" height="10.2" rx="0" stroke="#1c1c1c" stroke-width="1.0" fill="#fff" />
<rect x="766.4" y="747.3" width="8.6" height="6.2" rx="2.5" stroke="#1c1c1c" stroke-width="1.0" fill="#fff" />
<rect x="799.9" y="751.0" width="8.0" height="10.2" rx="0" stroke="#1c1c1c" stroke-width="1.0" fill="#fff" />
<rect x="799.6" y="747.3" width="8.6" height="6.2" rx="2.5" stroke="#1c1c1c" stroke-width="1.0" fill="#fff" />
<path d="M692.7,761.2 L827.7,761.2 M692.7,765.8 L715.8,765.8 L715.8,770.4 L737.7,770.4 L737.7,765.8 L827.7,765.8" stroke="#1c1c1c" stroke-width="1.1" fill="none" stroke-linecap="round" stroke-linejoin="round" />
<line x1="692.7" y1="773.8" x2="833.5" y2="773.8" stroke="#555" stroke-width="0.8" />
<line x1="692.7" y1="776.0" x2="833.5" y2="776.0" stroke="#999" stroke-width="0.5" />
<line x1="692.7" y1="803.8" x2="833.5" y2="803.8" stroke="#666" stroke-width="1.3" />
<line x1="692.7" y1="807.3" x2="833.5" y2="807.3" stroke="#555" stroke-width="0.9" />
<line x1="692.7" y1="815.4" x2="833.5" y2="815.4" stroke="#777" stroke-width="0.6" />
<line x1="692.7" y1="826.9" x2="833.5" y2="826.9" stroke="#777" stroke-width="0.6" />
<line x1="692.7" y1="832.0" x2="833.5" y2="832.0" stroke="#aaa" stroke-width="0.5" />
<line x1="686.0" y1="847.7" x2="833.5" y2="847.7" stroke="#444" stroke-width="0.8" />
<line x1="686.0" y1="854.6" x2="833.5" y2="854.6" stroke="#444" stroke-width="0.8" />
<line x1="686.0" y1="861.5" x2="833.5" y2="861.5" stroke="#444" stroke-width="0.8" />
<line x1="686.0" y1="840.8" x2="833.5" y2="840.8" stroke="#333" stroke-width="1.0" />
<path d="M742.3,765.8 Q738,810 714.6,840.8 L765.9,840.8 L765.9,765.8 Z" stroke="#1c1c1c" stroke-width="0" fill="#fff" stroke-linecap="round" stroke-linejoin="round" />
<path d="M742.3,765.8 Q738,810 714.6,840.8" stroke="#1c1c1c" stroke-width="1.0" fill="none" stroke-linecap="round" stroke-linejoin="round" />
<line x1="765.9" y1="765.8" x2="765.9" y2="840.8" stroke="#1c1c1c" stroke-width="0.8" />
<line x1="741.9" y1="774.0" x2="765.9" y2="774.0" stroke="#777" stroke-width="0.7" />
<line x1="741.5" y1="781.0" x2="765.9" y2="781.0" stroke="#777" stroke-width="0.7" />
<line x1="741.1" y1="788.0" x2="765.9" y2="788.0" stroke="#777" stroke-width="0.7" />
<line x1="739.6" y1="796.0" x2="765.9" y2="796.0" stroke="#777" stroke-width="0.7" />
<line x1="737.6" y1="804.0" x2="765.9" y2="804.0" stroke="#777" stroke-width="0.7" />
<line x1="736.0" y1="811.0" x2="765.9" y2="811.0" stroke="#777" stroke-width="0.7" />
<line x1="731.8" y1="819.0" x2="765.9" y2="819.0" stroke="#777" stroke-width="0.7" />
<line x1="726.3" y1="826.0" x2="765.9" y2="826.0" stroke="#777" stroke-width="0.7" />
<line x1="720.8" y1="833.0" x2="765.9" y2="833.0" stroke="#777" stroke-width="0.7" />
<rect x="729.6" y="788.8" width="95.8" height="3.5" rx="1.7" stroke="#1c1c1c" stroke-width="1.0" fill="#fff" />
<circle cx="803.5" cy="779.6" r="8.8" stroke="#1c1c1c" stroke-width="1.8" fill="#fff"/>
<circle cx="803.5" cy="776.3" r="1.76" fill="#1c1c1c"/>
<circle cx="800.6" cy="781.3" r="1.76" fill="#1c1c1c"/>
<circle cx="806.4" cy="781.3" r="1.76" fill="#1c1c1c"/>
<rect x="766.5" y="801.5" width="25.5" height="25.5" rx="0" stroke="#555" stroke-width="0.7" fill="#fff" />
<rect x="770.6" y="800.5" width="2.8" height="18.4" rx="1.4" stroke="#1c1c1c" stroke-width="1.0" fill="#888"/>
<circle cx="772.0" cy="821.4" r="1.8" stroke="#1c1c1c" stroke-width="1.1" fill="#fff"/>
<rect x="785.1" y="800.5" width="2.8" height="18.4" rx="1.4" stroke="#1c1c1c" stroke-width="1.0" fill="#888"/>
<circle cx="786.5" cy="821.4" r="1.8" stroke="#1c1c1c" stroke-width="1.1" fill="#fff"/>
<path d="M803.5,788.8 Q810,825 816.2,858.1" stroke="#1c1c1c" stroke-width="1.8" fill="none" stroke-linecap="round" stroke-linejoin="round" />
<path d="M803.5,788.8 Q810,825 816.2,858.1" stroke="#fff" stroke-width="0.6" fill="none" stroke-linecap="round" stroke-linejoin="round" />
<circle cx="816.2" cy="858.1" r="1.8" stroke="#1c1c1c" stroke-width="0.9" fill="#1c1c1c"/>
<rect x="713.5" y="839.6" width="55.4" height="5.8" rx="1.5" stroke="#1c1c1c" stroke-width="1.0" fill="#fff" />
<line x1="499.0" y1="918.5" x2="654.0" y2="918.5" stroke="#1c1c1c" stroke-width="0.9" />
<path d="M505.8,940 L505.8,923 L545.4,923 L545.4,940 L540.5,940 L540.5,927.5 L529.5,927.5 L529.5,940 L523.5,940 L523.5,927.5 L512.5,927.5 L512.5,940 Z" stroke="#1c1c1c" stroke-width="1.0" fill="none" stroke-linecap="round" stroke-linejoin="round" />
<rect x="561.3" y="924.1" width="6.7" height="14.7" rx="0" stroke="#1c1c1c" stroke-width="0.8" fill="#fff" />
<rect x="577.1" y="924.1" width="6.8" height="14.7" rx="0" stroke="#1c1c1c" stroke-width="0.8" fill="#fff" />
<rect x="554.5" y="938.8" width="36.2" height="11.3" rx="0" stroke="#1c1c1c" stroke-width="1.0" fill="#fff" />
<rect x="600.9" y="920.7" width="22.6" height="20.3" rx="0" stroke="#1c1c1c" stroke-width="0.9" fill="#fff" />
<circle cx="638.2" cy="940.0" r="6.8" stroke="#1c1c1c" stroke-width="1.6" fill="#fff"/>
<circle cx="638.2" cy="937.4" r="1.36" fill="#1c1c1c"/>
<circle cx="636.0" cy="941.3" r="1.36" fill="#1c1c1c"/>
<circle cx="640.4" cy="941.3" r="1.36" fill="#1c1c1c"/>
<rect x="501.0" y="951.0" width="38.8" height="2.5" fill="#bbb"/>
<rect x="539.8" y="950.6" width="106.3" height="4.1" rx="2" stroke="#1c1c1c" stroke-width="1.0" fill="#fff" />
<line x1="500.0" y1="963.7" x2="656.0" y2="963.7" stroke="#333" stroke-width="1.0" />
<line x1="500.0" y1="988.6" x2="657.0" y2="988.6" stroke="#333" stroke-width="1.0" />
<line x1="500.0" y1="997.6" x2="658.0" y2="997.6" stroke="#444" stroke-width="0.9" />
<rect x="512.6" y="963.7" width="24.9" height="24.9" rx="0" stroke="#555" stroke-width="0.7" fill="none" />
<rect x="517.0" y="968" width="2.6" height="21" rx="1.3" fill="#1c1c1c"/>
<rect x="529.4000000000001" y="968" width="2.6" height="21" rx="1.3" fill="#1c1c1c"/>
<rect x="604.3" y="963.7" width="23.7" height="24.9" rx="0" stroke="#555" stroke-width="0.7" fill="none" />
<rect x="607.5" y="968" width="2.6" height="21" rx="1.3" fill="#1c1c1c"/>
<rect x="622.2" y="968" width="2.6" height="21" rx="1.3" fill="#1c1c1c"/>
<path d="M637,954.7 Q638,980 648.4,1003.3" stroke="#1c1c1c" stroke-width="1.0" fill="none" stroke-linecap="round" stroke-linejoin="round" />
<text x="616.7" y="898.0" font-family="Liberation Sans" font-size="9.2" fill="#262626" stroke="#fff" stroke-width="0" text-anchor="start" font-weight="normal"  textLength="34.0" lengthAdjust="spacingAndGlyphs">Billboard</text>
<path d="M611,892.4 Q590,915 586.2,943.3" stroke="#1c1c1c" stroke-width="0.8" fill="none" stroke-linecap="round" stroke-linejoin="round" />
<path d="M584,939 L586.2,943.3 L588.5,939" stroke="#1c1c1c" stroke-width="0.8" fill="none" stroke-linecap="round" stroke-linejoin="round" />
<rect x="708.3" y="919.7" width="15.0" height="5.4" fill="#333"/>
<line x1="708.3" y1="919.7" x2="708.3" y2="1003.5" stroke="#1c1c1c" stroke-width="1.0" />
<polygon points="719.0,925.1 719.0,1009.0 730.8,1009.0 730.8,1003.5 724.4,985.3 724.4,925.1" fill="url(#hp2)" stroke="#1c1c1c" stroke-width="0.9"/>
<line x1="719.0" y1="985.1" x2="724.6" y2="985.9" stroke="#1c1c1c" stroke-width="0.7" />
<line x1="724.4" y1="925.1" x2="724.4" y2="952.0" stroke="#1c1c1c" stroke-width="0.8" />
<line x1="708.3" y1="940.1" x2="724.4" y2="940.1" stroke="#1c1c1c" stroke-width="0.8" />
<line x1="708.3" y1="963.8" x2="719.0" y2="963.8" stroke="#555" stroke-width="0.6" stroke-dasharray="2,2"/>
<line x1="708.3" y1="989.6" x2="719.0" y2="989.6" stroke="#555" stroke-width="0.6" stroke-dasharray="2,2"/>
<polygon points="724.4,940.1 766.3,952.0 724.4,952.0" stroke="#1c1c1c" stroke-width="0.9" fill="#fff" stroke-linejoin="round" />
<rect x="724.4" y="952.0" width="40.8" height="4.3" rx="0" stroke="#1c1c1c" stroke-width="1.0" fill="#fff" />
<path d="M740.5,945.5 Q745,937 761,933.7" stroke="#1c1c1c" stroke-width="0.7" fill="none" stroke-linecap="round" stroke-linejoin="round" />
<text x="765.2" y="923.0" font-family="Liberation Sans" font-size="8.625" fill="#262626" stroke="#fff" stroke-width="0" text-anchor="start" font-weight="normal"  textLength="73.1" lengthAdjust="spacingAndGlyphs">Billboard now made</text>
<text x="765.2" y="934.0" font-family="Liberation Sans" font-size="8.625" fill="#262626" stroke="#fff" stroke-width="0" text-anchor="start" font-weight="normal"  textLength="73.1" lengthAdjust="spacingAndGlyphs">from a solid block.</text>
<text x="769.5" y="981.0" font-family="Liberation Sans" font-size="13.799999999999999" fill="#262626" stroke="#fff" stroke-width="0.35" text-anchor="start" font-weight="normal"  textLength="59.1" lengthAdjust="spacingAndGlyphs">HMS Albion</text>
<line x1="767.4" y1="982.5" x2="830.8" y2="982.5" stroke="#1c1c1c" stroke-width="0.9" />
<text x="770.6" y="996.0" font-family="Liberation Sans" font-size="13.799999999999999" fill="#262626" stroke="#fff" stroke-width="0.35" text-anchor="start" font-weight="normal"  textLength="86.0" lengthAdjust="spacingAndGlyphs">90 Guns c 1842</text>
<line x1="768.4" y1="997.6" x2="859.8" y2="997.6" stroke="#1c1c1c" stroke-width="0.9" /></svg>
</body></html>
